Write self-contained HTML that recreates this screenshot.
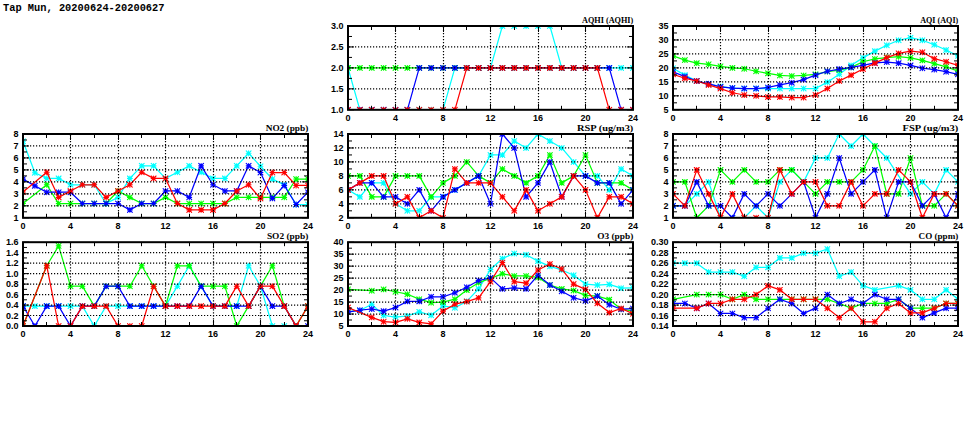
<!DOCTYPE html><html><head><meta charset="utf-8"><style>html,body{margin:0;padding:0;background:#fff;width:975px;height:447px;overflow:hidden}svg{display:block}</style></head><body>
<svg width="975" height="447" viewBox="0 0 975 447">
<rect width="975" height="447" fill="#fff"/>
<text x="3" y="10.9" font-family="Liberation Mono" font-weight="bold" font-size="11.2" textLength="161.5" lengthAdjust="spacingAndGlyphs" fill="#000">Tap Mun, 20200624-20200627</text>
<clipPath id="c01"><rect x="23" y="134" width="285" height="83.8"/></clipPath>
<g fill="none" stroke-linejoin="round" stroke-linecap="round" clip-path="url(#c01)">
<path d="M23 141.18 L34.88 172.79 L46.75 178.41 L58.62 178.41 L70.5 184.76 L82.38 184.76 L94.25 184.76 L106.12 203.55 L118 197.33 L129.88 178.41 L141.75 165.84 L153.62 165.84 L165.5 178.41 L177.38 172.19 L189.25 165.84 L201.12 172.19 L213 178.41 L224.88 178.41 L236.75 165.84 L248.62 153.27 L260.5 166.32 L272.38 179.01 L284.25 184.88 L296.12 204.51 L308 204.51" stroke="#00ffff" stroke-width="1.25"/>
<path d="M20.6 138.78L25.4 143.58M20.6 143.58L25.4 138.78M20.6 141.18L25.4 141.18M23 138.78L23 143.58M32.48 170.39L37.27 175.19M32.48 175.19L37.27 170.39M32.48 172.79L37.27 172.79M34.88 170.39L34.88 175.19M44.35 176.01L49.15 180.81M44.35 180.81L49.15 176.01M44.35 178.41L49.15 178.41M46.75 176.01L46.75 180.81M56.23 176.01L61.02 180.81M56.23 180.81L61.02 176.01M56.23 178.41L61.02 178.41M58.62 176.01L58.62 180.81M68.1 182.36L72.9 187.16M68.1 187.16L72.9 182.36M68.1 184.76L72.9 184.76M70.5 182.36L70.5 187.16M79.97 182.36L84.78 187.16M79.97 187.16L84.78 182.36M79.97 184.76L84.78 184.76M82.38 182.36L82.38 187.16M91.85 182.36L96.65 187.16M91.85 187.16L96.65 182.36M91.85 184.76L96.65 184.76M94.25 182.36L94.25 187.16M103.72 201.15L108.53 205.95M103.72 205.95L108.53 201.15M103.72 203.55L108.53 203.55M106.12 201.15L106.12 205.95M115.6 194.93L120.4 199.73M115.6 199.73L120.4 194.93M115.6 197.33L120.4 197.33M118 194.93L118 199.73M127.47 176.01L132.28 180.81M127.47 180.81L132.28 176.01M127.47 178.41L132.28 178.41M129.88 176.01L129.88 180.81M139.35 163.44L144.15 168.24M139.35 168.24L144.15 163.44M139.35 165.84L144.15 165.84M141.75 163.44L141.75 168.24M151.22 163.44L156.03 168.24M151.22 168.24L156.03 163.44M151.22 165.84L156.03 165.84M153.62 163.44L153.62 168.24M163.1 176.01L167.9 180.81M163.1 180.81L167.9 176.01M163.1 178.41L167.9 178.41M165.5 176.01L165.5 180.81M174.97 169.79L179.78 174.59M174.97 174.59L179.78 169.79M174.97 172.19L179.78 172.19M177.38 169.79L177.38 174.59M186.85 163.44L191.65 168.24M186.85 168.24L191.65 163.44M186.85 165.84L191.65 165.84M189.25 163.44L189.25 168.24M198.72 169.79L203.53 174.59M198.72 174.59L203.53 169.79M198.72 172.19L203.53 172.19M201.12 169.79L201.12 174.59M210.6 176.01L215.4 180.81M210.6 180.81L215.4 176.01M210.6 178.41L215.4 178.41M213 176.01L213 180.81M222.47 176.01L227.28 180.81M222.47 180.81L227.28 176.01M222.47 178.41L227.28 178.41M224.88 176.01L224.88 180.81M234.35 163.44L239.15 168.24M234.35 168.24L239.15 163.44M234.35 165.84L239.15 165.84M236.75 163.44L236.75 168.24M246.22 150.87L251.03 155.67M246.22 155.67L251.03 150.87M246.22 153.27L251.03 153.27M248.62 150.87L248.62 155.67M258.1 163.92L262.9 168.72M258.1 168.72L262.9 163.92M258.1 166.32L262.9 166.32M260.5 163.92L260.5 168.72M269.98 176.61L274.77 181.41M269.98 181.41L274.77 176.61M269.98 179.01L274.77 179.01M272.38 176.61L272.38 181.41M281.85 182.48L286.65 187.28M281.85 187.28L286.65 182.48M281.85 184.88L286.65 184.88M284.25 182.48L284.25 187.28M293.73 202.11L298.52 206.91M293.73 206.91L298.52 202.11M293.73 204.51L298.52 204.51M296.12 202.11L296.12 206.91M305.6 202.11L310.4 206.91M305.6 206.91L310.4 202.11M305.6 204.51L310.4 204.51M308 202.11L308 206.91" stroke="#00ffff" stroke-width="1.1"/>
<path d="M23 203.55 L46.75 184.76 L58.62 203.55 L70.5 203.55 L82.38 203.55 L94.25 203.55 L106.12 203.55 L118 190.98 L129.88 197.33 L141.75 203.55 L153.62 203.55 L165.5 197.33 L177.38 203.55 L189.25 203.55 L201.12 203.55 L213 203.55 L224.88 203.55 L236.75 197.33 L248.62 197.33 L260.5 197.33 L272.38 197.33 L284.25 197.33 L296.12 179.01 L308 179.01" stroke="#00ff00" stroke-width="1.25"/>
<path d="M20.6 201.15L25.4 205.95M20.6 205.95L25.4 201.15M20.6 203.55L25.4 203.55M23 201.15L23 205.95M44.35 182.36L49.15 187.16M44.35 187.16L49.15 182.36M44.35 184.76L49.15 184.76M46.75 182.36L46.75 187.16M56.23 201.15L61.02 205.95M56.23 205.95L61.02 201.15M56.23 203.55L61.02 203.55M58.62 201.15L58.62 205.95M68.1 201.15L72.9 205.95M68.1 205.95L72.9 201.15M68.1 203.55L72.9 203.55M70.5 201.15L70.5 205.95M79.97 201.15L84.78 205.95M79.97 205.95L84.78 201.15M79.97 203.55L84.78 203.55M82.38 201.15L82.38 205.95M91.85 201.15L96.65 205.95M91.85 205.95L96.65 201.15M91.85 203.55L96.65 203.55M94.25 201.15L94.25 205.95M103.72 201.15L108.53 205.95M103.72 205.95L108.53 201.15M103.72 203.55L108.53 203.55M106.12 201.15L106.12 205.95M115.6 188.58L120.4 193.38M115.6 193.38L120.4 188.58M115.6 190.98L120.4 190.98M118 188.58L118 193.38M127.47 194.93L132.28 199.73M127.47 199.73L132.28 194.93M127.47 197.33L132.28 197.33M129.88 194.93L129.88 199.73M139.35 201.15L144.15 205.95M139.35 205.95L144.15 201.15M139.35 203.55L144.15 203.55M141.75 201.15L141.75 205.95M151.22 201.15L156.03 205.95M151.22 205.95L156.03 201.15M151.22 203.55L156.03 203.55M153.62 201.15L153.62 205.95M163.1 194.93L167.9 199.73M163.1 199.73L167.9 194.93M163.1 197.33L167.9 197.33M165.5 194.93L165.5 199.73M174.97 201.15L179.78 205.95M174.97 205.95L179.78 201.15M174.97 203.55L179.78 203.55M177.38 201.15L177.38 205.95M186.85 201.15L191.65 205.95M186.85 205.95L191.65 201.15M186.85 203.55L191.65 203.55M189.25 201.15L189.25 205.95M198.72 201.15L203.53 205.95M198.72 205.95L203.53 201.15M198.72 203.55L203.53 203.55M201.12 201.15L201.12 205.95M210.6 201.15L215.4 205.95M210.6 205.95L215.4 201.15M210.6 203.55L215.4 203.55M213 201.15L213 205.95M222.47 201.15L227.28 205.95M222.47 205.95L227.28 201.15M222.47 203.55L227.28 203.55M224.88 201.15L224.88 205.95M234.35 194.93L239.15 199.73M234.35 199.73L239.15 194.93M234.35 197.33L239.15 197.33M236.75 194.93L236.75 199.73M246.22 194.93L251.03 199.73M246.22 199.73L251.03 194.93M246.22 197.33L251.03 197.33M248.62 194.93L248.62 199.73M258.1 194.93L262.9 199.73M258.1 199.73L262.9 194.93M258.1 197.33L262.9 197.33M260.5 194.93L260.5 199.73M269.98 194.93L274.77 199.73M269.98 199.73L274.77 194.93M269.98 197.33L274.77 197.33M272.38 194.93L272.38 199.73M281.85 194.93L286.65 199.73M281.85 199.73L286.65 194.93M281.85 197.33L286.65 197.33M284.25 194.93L284.25 199.73M293.73 176.61L298.52 181.41M293.73 181.41L298.52 176.61M293.73 179.01L298.52 179.01M296.12 176.61L296.12 181.41M305.6 176.61L310.4 181.41M305.6 181.41L310.4 176.61M305.6 179.01L310.4 179.01M308 176.61L308 181.41" stroke="#00ff00" stroke-width="1.1"/>
<path d="M23 179.13 L34.88 185.84 L46.75 192.18 L58.62 192.18 L70.5 192.18 L82.38 203.55 L94.25 203.55 L106.12 203.55 L118 203.55 L129.88 209.9 L141.75 203.55 L153.62 203.55 L165.5 190.98 L177.38 190.98 L189.25 197.33 L201.12 165.84 L213 184.76 L224.88 190.98 L236.75 190.98 L248.62 165.84 L260.5 172.55 L272.38 198.41 L284.25 185.48 L296.12 204.51 L308 192.18" stroke="#0000ff" stroke-width="1.25"/>
<path d="M20.6 176.73L25.4 181.53M20.6 181.53L25.4 176.73M20.6 179.13L25.4 179.13M23 176.73L23 181.53M32.48 183.44L37.27 188.24M32.48 188.24L37.27 183.44M32.48 185.84L37.27 185.84M34.88 183.44L34.88 188.24M44.35 189.78L49.15 194.58M44.35 194.58L49.15 189.78M44.35 192.18L49.15 192.18M46.75 189.78L46.75 194.58M56.23 189.78L61.02 194.58M56.23 194.58L61.02 189.78M56.23 192.18L61.02 192.18M58.62 189.78L58.62 194.58M68.1 189.78L72.9 194.58M68.1 194.58L72.9 189.78M68.1 192.18L72.9 192.18M70.5 189.78L70.5 194.58M79.97 201.15L84.78 205.95M79.97 205.95L84.78 201.15M79.97 203.55L84.78 203.55M82.38 201.15L82.38 205.95M91.85 201.15L96.65 205.95M91.85 205.95L96.65 201.15M91.85 203.55L96.65 203.55M94.25 201.15L94.25 205.95M103.72 201.15L108.53 205.95M103.72 205.95L108.53 201.15M103.72 203.55L108.53 203.55M106.12 201.15L106.12 205.95M115.6 201.15L120.4 205.95M115.6 205.95L120.4 201.15M115.6 203.55L120.4 203.55M118 201.15L118 205.95M127.47 207.5L132.28 212.3M127.47 212.3L132.28 207.5M127.47 209.9L132.28 209.9M129.88 207.5L129.88 212.3M139.35 201.15L144.15 205.95M139.35 205.95L144.15 201.15M139.35 203.55L144.15 203.55M141.75 201.15L141.75 205.95M151.22 201.15L156.03 205.95M151.22 205.95L156.03 201.15M151.22 203.55L156.03 203.55M153.62 201.15L153.62 205.95M163.1 188.58L167.9 193.38M163.1 193.38L167.9 188.58M163.1 190.98L167.9 190.98M165.5 188.58L165.5 193.38M174.97 188.58L179.78 193.38M174.97 193.38L179.78 188.58M174.97 190.98L179.78 190.98M177.38 188.58L177.38 193.38M186.85 194.93L191.65 199.73M186.85 199.73L191.65 194.93M186.85 197.33L191.65 197.33M189.25 194.93L189.25 199.73M198.72 163.44L203.53 168.24M198.72 168.24L203.53 163.44M198.72 165.84L203.53 165.84M201.12 163.44L201.12 168.24M210.6 182.36L215.4 187.16M210.6 187.16L215.4 182.36M210.6 184.76L215.4 184.76M213 182.36L213 187.16M222.47 188.58L227.28 193.38M222.47 193.38L227.28 188.58M222.47 190.98L227.28 190.98M224.88 188.58L224.88 193.38M234.35 188.58L239.15 193.38M234.35 193.38L239.15 188.58M234.35 190.98L239.15 190.98M236.75 188.58L236.75 193.38M246.22 163.44L251.03 168.24M246.22 168.24L251.03 163.44M246.22 165.84L251.03 165.84M248.62 163.44L248.62 168.24M258.1 170.15L262.9 174.95M258.1 174.95L262.9 170.15M258.1 172.55L262.9 172.55M260.5 170.15L260.5 174.95M269.98 196.01L274.77 200.81M269.98 200.81L274.77 196.01M269.98 198.41L274.77 198.41M272.38 196.01L272.38 200.81M281.85 183.08L286.65 187.88M281.85 187.88L286.65 183.08M281.85 185.48L286.65 185.48M284.25 183.08L284.25 187.88M293.73 202.11L298.52 206.91M293.73 206.91L298.52 202.11M293.73 204.51L298.52 204.51M296.12 202.11L296.12 206.91M305.6 189.78L310.4 194.58M305.6 194.58L310.4 189.78M305.6 192.18L310.4 192.18M308 189.78L308 194.58" stroke="#0000ff" stroke-width="1.1"/>
<path d="M23 191.94 L46.75 172.19 L58.62 197.33 L70.5 190.98 L82.38 184.76 L94.25 184.76 L106.12 197.33 L118 190.98 L129.88 184.76 L141.75 172.19 L153.62 178.41 L165.5 178.41 L177.38 203.55 L189.25 209.9 L201.12 209.9 L213 209.9 L224.88 203.55 L236.75 190.98 L248.62 184.76 L260.5 198.41 L272.38 172.55 L284.25 172.55 L296.12 185.48 L308 185.48" stroke="#ff0000" stroke-width="1.25"/>
<path d="M20.6 189.54L25.4 194.34M20.6 194.34L25.4 189.54M20.6 191.94L25.4 191.94M23 189.54L23 194.34M44.35 169.79L49.15 174.59M44.35 174.59L49.15 169.79M44.35 172.19L49.15 172.19M46.75 169.79L46.75 174.59M56.23 194.93L61.02 199.73M56.23 199.73L61.02 194.93M56.23 197.33L61.02 197.33M58.62 194.93L58.62 199.73M68.1 188.58L72.9 193.38M68.1 193.38L72.9 188.58M68.1 190.98L72.9 190.98M70.5 188.58L70.5 193.38M79.97 182.36L84.78 187.16M79.97 187.16L84.78 182.36M79.97 184.76L84.78 184.76M82.38 182.36L82.38 187.16M91.85 182.36L96.65 187.16M91.85 187.16L96.65 182.36M91.85 184.76L96.65 184.76M94.25 182.36L94.25 187.16M103.72 194.93L108.53 199.73M103.72 199.73L108.53 194.93M103.72 197.33L108.53 197.33M106.12 194.93L106.12 199.73M115.6 188.58L120.4 193.38M115.6 193.38L120.4 188.58M115.6 190.98L120.4 190.98M118 188.58L118 193.38M127.47 182.36L132.28 187.16M127.47 187.16L132.28 182.36M127.47 184.76L132.28 184.76M129.88 182.36L129.88 187.16M139.35 169.79L144.15 174.59M139.35 174.59L144.15 169.79M139.35 172.19L144.15 172.19M141.75 169.79L141.75 174.59M151.22 176.01L156.03 180.81M151.22 180.81L156.03 176.01M151.22 178.41L156.03 178.41M153.62 176.01L153.62 180.81M163.1 176.01L167.9 180.81M163.1 180.81L167.9 176.01M163.1 178.41L167.9 178.41M165.5 176.01L165.5 180.81M174.97 201.15L179.78 205.95M174.97 205.95L179.78 201.15M174.97 203.55L179.78 203.55M177.38 201.15L177.38 205.95M186.85 207.5L191.65 212.3M186.85 212.3L191.65 207.5M186.85 209.9L191.65 209.9M189.25 207.5L189.25 212.3M198.72 207.5L203.53 212.3M198.72 212.3L203.53 207.5M198.72 209.9L203.53 209.9M201.12 207.5L201.12 212.3M210.6 207.5L215.4 212.3M210.6 212.3L215.4 207.5M210.6 209.9L215.4 209.9M213 207.5L213 212.3M222.47 201.15L227.28 205.95M222.47 205.95L227.28 201.15M222.47 203.55L227.28 203.55M224.88 201.15L224.88 205.95M234.35 188.58L239.15 193.38M234.35 193.38L239.15 188.58M234.35 190.98L239.15 190.98M236.75 188.58L236.75 193.38M246.22 182.36L251.03 187.16M246.22 187.16L251.03 182.36M246.22 184.76L251.03 184.76M248.62 182.36L248.62 187.16M258.1 196.01L262.9 200.81M258.1 200.81L262.9 196.01M258.1 198.41L262.9 198.41M260.5 196.01L260.5 200.81M269.98 170.15L274.77 174.95M269.98 174.95L274.77 170.15M269.98 172.55L274.77 172.55M272.38 170.15L272.38 174.95M281.85 170.15L286.65 174.95M281.85 174.95L286.65 170.15M281.85 172.55L286.65 172.55M284.25 170.15L284.25 174.95M293.73 183.08L298.52 187.88M293.73 187.88L298.52 183.08M293.73 185.48L298.52 185.48M296.12 183.08L296.12 187.88M305.6 183.08L310.4 187.88M305.6 187.88L310.4 183.08M305.6 185.48L310.4 185.48M308 183.08L308 187.88" stroke="#ff0000" stroke-width="1.1"/>
</g>
<rect x="23" y="134" width="285" height="83.8" fill="none" stroke="#000" stroke-width="2.0"/>
<path d="M70.5 135V216.8M118.5 135V216.8M165.5 135V216.8M213.5 135V216.8M260.5 135V216.8M24 205.83H307M24 193.86H307M24 181.89H307M24 169.91H307M24 157.94H307M24 145.97H307" stroke="#000" stroke-width="1.2" stroke-dasharray="1.2 1.8" fill="none"/>
<path d="M23.5 217.8v-6M23.5 134v6M46.5 217.8v-4M46.5 134v4M70.5 217.8v-6M70.5 134v6M94.5 217.8v-4M94.5 134v4M118.5 217.8v-6M118.5 134v6M141.5 217.8v-4M141.5 134v4M165.5 217.8v-6M165.5 134v6M189.5 217.8v-4M189.5 134v4M213.5 217.8v-6M213.5 134v6M236.5 217.8v-4M236.5 134v4M260.5 217.8v-6M260.5 134v6M284.5 217.8v-4M284.5 134v4M308.5 217.8v-6M308.5 134v6M23 217.8h6M308 217.8h-6M23 211.81h4M308 211.81h-4M23 205.83h6M308 205.83h-6M23 199.84h4M308 199.84h-4M23 193.86h6M308 193.86h-6M23 187.87h4M308 187.87h-4M23 181.89h6M308 181.89h-6M23 175.9h4M308 175.9h-4M23 169.91h6M308 169.91h-6M23 163.93h4M308 163.93h-4M23 157.94h6M308 157.94h-6M23 151.96h4M308 151.96h-4M23 145.97h6M308 145.97h-6M23 139.99h4M308 139.99h-4M23 134h6M308 134h-6" stroke="#000" stroke-width="1" fill="none"/>
<g font-family="Liberation Sans" font-weight="bold" font-size="9" fill="#000">
<text x="23" y="229.1" text-anchor="middle">0</text>
<text x="70.5" y="229.1" text-anchor="middle">4</text>
<text x="118" y="229.1" text-anchor="middle">8</text>
<text x="165.5" y="229.1" text-anchor="middle">12</text>
<text x="213" y="229.1" text-anchor="middle">16</text>
<text x="260.5" y="229.1" text-anchor="middle">20</text>
<text x="308" y="229.1" text-anchor="middle">24</text>
<text x="18.5" y="221" text-anchor="end">1</text>
<text x="18.5" y="209.03" text-anchor="end">2</text>
<text x="18.5" y="197.06" text-anchor="end">3</text>
<text x="18.5" y="185.09" text-anchor="end">4</text>
<text x="18.5" y="173.11" text-anchor="end">5</text>
<text x="18.5" y="161.14" text-anchor="end">6</text>
<text x="18.5" y="149.17" text-anchor="end">7</text>
<text x="18.5" y="137.2" text-anchor="end">8</text>
</g>
<text x="265.7" y="130.6" font-family="Liberation Serif" font-weight="bold" font-size="9.2" textLength="42.6" lengthAdjust="spacingAndGlyphs" fill="#000">NO2 (ppb)</text>
<clipPath id="c02"><rect x="23" y="242.2" width="285" height="83.8"/></clipPath>
<g fill="none" stroke-linejoin="round" stroke-linecap="round" clip-path="url(#c02)">
<path d="M23 306.1 L34.88 306.1 L46.75 306.1 L58.62 306.1 L70.5 306.1 L82.38 306.1 L94.25 326 L106.12 306.1 L118 306.1 L129.88 306.1 L141.75 306.1 L153.62 306.1 L165.5 306.1 L177.38 286.19 L189.25 265.77 L201.12 286.19 L213 306.1 L224.88 306.1 L236.75 306.1 L248.62 265.77 L260.5 286.19 L272.38 326 L284.25 326 L296.12 326" stroke="#00ffff" stroke-width="1.25"/>
<path d="M20.6 303.7L25.4 308.5M20.6 308.5L25.4 303.7M20.6 306.1L25.4 306.1M23 303.7L23 308.5M32.48 303.7L37.27 308.5M32.48 308.5L37.27 303.7M32.48 306.1L37.27 306.1M34.88 303.7L34.88 308.5M44.35 303.7L49.15 308.5M44.35 308.5L49.15 303.7M44.35 306.1L49.15 306.1M46.75 303.7L46.75 308.5M56.23 303.7L61.02 308.5M56.23 308.5L61.02 303.7M56.23 306.1L61.02 306.1M58.62 303.7L58.62 308.5M68.1 303.7L72.9 308.5M68.1 308.5L72.9 303.7M68.1 306.1L72.9 306.1M70.5 303.7L70.5 308.5M79.97 303.7L84.78 308.5M79.97 308.5L84.78 303.7M79.97 306.1L84.78 306.1M82.38 303.7L82.38 308.5M91.85 323.6L96.65 328.4M91.85 328.4L96.65 323.6M91.85 326L96.65 326M94.25 323.6L94.25 328.4M103.72 303.7L108.53 308.5M103.72 308.5L108.53 303.7M103.72 306.1L108.53 306.1M106.12 303.7L106.12 308.5M115.6 303.7L120.4 308.5M115.6 308.5L120.4 303.7M115.6 306.1L120.4 306.1M118 303.7L118 308.5M127.47 303.7L132.28 308.5M127.47 308.5L132.28 303.7M127.47 306.1L132.28 306.1M129.88 303.7L129.88 308.5M139.35 303.7L144.15 308.5M139.35 308.5L144.15 303.7M139.35 306.1L144.15 306.1M141.75 303.7L141.75 308.5M151.22 303.7L156.03 308.5M151.22 308.5L156.03 303.7M151.22 306.1L156.03 306.1M153.62 303.7L153.62 308.5M163.1 303.7L167.9 308.5M163.1 308.5L167.9 303.7M163.1 306.1L167.9 306.1M165.5 303.7L165.5 308.5M174.97 283.8L179.78 288.59M174.97 288.59L179.78 283.8M174.97 286.19L179.78 286.19M177.38 283.8L177.38 288.59M186.85 263.37L191.65 268.17M186.85 268.17L191.65 263.37M186.85 265.77L191.65 265.77M189.25 263.37L189.25 268.17M198.72 283.8L203.53 288.59M198.72 288.59L203.53 283.8M198.72 286.19L203.53 286.19M201.12 283.8L201.12 288.59M210.6 303.7L215.4 308.5M210.6 308.5L215.4 303.7M210.6 306.1L215.4 306.1M213 303.7L213 308.5M222.47 303.7L227.28 308.5M222.47 308.5L227.28 303.7M222.47 306.1L227.28 306.1M224.88 303.7L224.88 308.5M234.35 303.7L239.15 308.5M234.35 308.5L239.15 303.7M234.35 306.1L239.15 306.1M236.75 303.7L236.75 308.5M246.22 263.37L251.03 268.17M246.22 268.17L251.03 263.37M246.22 265.77L251.03 265.77M248.62 263.37L248.62 268.17M258.1 283.8L262.9 288.59M258.1 288.59L262.9 283.8M258.1 286.19L262.9 286.19M260.5 283.8L260.5 288.59M269.98 323.6L274.77 328.4M269.98 328.4L274.77 323.6M269.98 326L274.77 326M272.38 323.6L272.38 328.4M281.85 323.6L286.65 328.4M281.85 328.4L286.65 323.6M281.85 326L286.65 326M284.25 323.6L284.25 328.4M293.73 323.6L298.52 328.4M293.73 328.4L298.52 323.6M293.73 326L298.52 326M296.12 323.6L296.12 328.4" stroke="#00ffff" stroke-width="1.1"/>
<path d="M23 326 L46.75 265.77 L58.62 245.87 L70.5 286.19 L82.38 286.19 L94.25 306.1 L106.12 286.19 L118 286.19 L129.88 286.19 L141.75 265.77 L153.62 286.19 L165.5 306.1 L177.38 265.77 L189.25 265.77 L201.12 286.19 L213 286.19 L224.88 286.19 L236.75 326 L248.62 306.1 L260.5 286.19 L272.38 265.77 L284.25 306.1 L296.12 326 L308 306.1" stroke="#00ff00" stroke-width="1.25"/>
<path d="M20.6 323.6L25.4 328.4M20.6 328.4L25.4 323.6M20.6 326L25.4 326M23 323.6L23 328.4M44.35 263.37L49.15 268.17M44.35 268.17L49.15 263.37M44.35 265.77L49.15 265.77M46.75 263.37L46.75 268.17M56.23 243.47L61.02 248.27M56.23 248.27L61.02 243.47M56.23 245.87L61.02 245.87M58.62 243.47L58.62 248.27M68.1 283.8L72.9 288.59M68.1 288.59L72.9 283.8M68.1 286.19L72.9 286.19M70.5 283.8L70.5 288.59M79.97 283.8L84.78 288.59M79.97 288.59L84.78 283.8M79.97 286.19L84.78 286.19M82.38 283.8L82.38 288.59M91.85 303.7L96.65 308.5M91.85 308.5L96.65 303.7M91.85 306.1L96.65 306.1M94.25 303.7L94.25 308.5M103.72 283.8L108.53 288.59M103.72 288.59L108.53 283.8M103.72 286.19L108.53 286.19M106.12 283.8L106.12 288.59M115.6 283.8L120.4 288.59M115.6 288.59L120.4 283.8M115.6 286.19L120.4 286.19M118 283.8L118 288.59M127.47 283.8L132.28 288.59M127.47 288.59L132.28 283.8M127.47 286.19L132.28 286.19M129.88 283.8L129.88 288.59M139.35 263.37L144.15 268.17M139.35 268.17L144.15 263.37M139.35 265.77L144.15 265.77M141.75 263.37L141.75 268.17M151.22 283.8L156.03 288.59M151.22 288.59L156.03 283.8M151.22 286.19L156.03 286.19M153.62 283.8L153.62 288.59M163.1 303.7L167.9 308.5M163.1 308.5L167.9 303.7M163.1 306.1L167.9 306.1M165.5 303.7L165.5 308.5M174.97 263.37L179.78 268.17M174.97 268.17L179.78 263.37M174.97 265.77L179.78 265.77M177.38 263.37L177.38 268.17M186.85 263.37L191.65 268.17M186.85 268.17L191.65 263.37M186.85 265.77L191.65 265.77M189.25 263.37L189.25 268.17M198.72 283.8L203.53 288.59M198.72 288.59L203.53 283.8M198.72 286.19L203.53 286.19M201.12 283.8L201.12 288.59M210.6 283.8L215.4 288.59M210.6 288.59L215.4 283.8M210.6 286.19L215.4 286.19M213 283.8L213 288.59M222.47 283.8L227.28 288.59M222.47 288.59L227.28 283.8M222.47 286.19L227.28 286.19M224.88 283.8L224.88 288.59M234.35 323.6L239.15 328.4M234.35 328.4L239.15 323.6M234.35 326L239.15 326M236.75 323.6L236.75 328.4M246.22 303.7L251.03 308.5M246.22 308.5L251.03 303.7M246.22 306.1L251.03 306.1M248.62 303.7L248.62 308.5M258.1 283.8L262.9 288.59M258.1 288.59L262.9 283.8M258.1 286.19L262.9 286.19M260.5 283.8L260.5 288.59M269.98 263.37L274.77 268.17M269.98 268.17L274.77 263.37M269.98 265.77L274.77 265.77M272.38 263.37L272.38 268.17M281.85 303.7L286.65 308.5M281.85 308.5L286.65 303.7M281.85 306.1L286.65 306.1M284.25 303.7L284.25 308.5M293.73 323.6L298.52 328.4M293.73 328.4L298.52 323.6M293.73 326L298.52 326M296.12 323.6L296.12 328.4M305.6 303.7L310.4 308.5M305.6 308.5L310.4 303.7M305.6 306.1L310.4 306.1M308 303.7L308 308.5" stroke="#00ff00" stroke-width="1.1"/>
<path d="M23 306.1 L34.88 326 L46.75 306.1 L58.62 306.1 L70.5 326 L82.38 306.1 L94.25 306.1 L106.12 286.19 L118 286.19 L129.88 306.1 L141.75 306.1 L153.62 306.1 L165.5 306.1 L177.38 306.1 L189.25 306.1 L201.12 286.19 L213 306.1 L224.88 306.1 L236.75 306.1 L248.62 306.1 L260.5 286.19 L272.38 306.1 L284.25 306.1 L296.12 326 L308 326" stroke="#0000ff" stroke-width="1.25"/>
<path d="M20.6 303.7L25.4 308.5M20.6 308.5L25.4 303.7M20.6 306.1L25.4 306.1M23 303.7L23 308.5M32.48 323.6L37.27 328.4M32.48 328.4L37.27 323.6M32.48 326L37.27 326M34.88 323.6L34.88 328.4M44.35 303.7L49.15 308.5M44.35 308.5L49.15 303.7M44.35 306.1L49.15 306.1M46.75 303.7L46.75 308.5M56.23 303.7L61.02 308.5M56.23 308.5L61.02 303.7M56.23 306.1L61.02 306.1M58.62 303.7L58.62 308.5M68.1 323.6L72.9 328.4M68.1 328.4L72.9 323.6M68.1 326L72.9 326M70.5 323.6L70.5 328.4M79.97 303.7L84.78 308.5M79.97 308.5L84.78 303.7M79.97 306.1L84.78 306.1M82.38 303.7L82.38 308.5M91.85 303.7L96.65 308.5M91.85 308.5L96.65 303.7M91.85 306.1L96.65 306.1M94.25 303.7L94.25 308.5M103.72 283.8L108.53 288.59M103.72 288.59L108.53 283.8M103.72 286.19L108.53 286.19M106.12 283.8L106.12 288.59M115.6 283.8L120.4 288.59M115.6 288.59L120.4 283.8M115.6 286.19L120.4 286.19M118 283.8L118 288.59M127.47 303.7L132.28 308.5M127.47 308.5L132.28 303.7M127.47 306.1L132.28 306.1M129.88 303.7L129.88 308.5M139.35 303.7L144.15 308.5M139.35 308.5L144.15 303.7M139.35 306.1L144.15 306.1M141.75 303.7L141.75 308.5M151.22 303.7L156.03 308.5M151.22 308.5L156.03 303.7M151.22 306.1L156.03 306.1M153.62 303.7L153.62 308.5M163.1 303.7L167.9 308.5M163.1 308.5L167.9 303.7M163.1 306.1L167.9 306.1M165.5 303.7L165.5 308.5M174.97 303.7L179.78 308.5M174.97 308.5L179.78 303.7M174.97 306.1L179.78 306.1M177.38 303.7L177.38 308.5M186.85 303.7L191.65 308.5M186.85 308.5L191.65 303.7M186.85 306.1L191.65 306.1M189.25 303.7L189.25 308.5M198.72 283.8L203.53 288.59M198.72 288.59L203.53 283.8M198.72 286.19L203.53 286.19M201.12 283.8L201.12 288.59M210.6 303.7L215.4 308.5M210.6 308.5L215.4 303.7M210.6 306.1L215.4 306.1M213 303.7L213 308.5M222.47 303.7L227.28 308.5M222.47 308.5L227.28 303.7M222.47 306.1L227.28 306.1M224.88 303.7L224.88 308.5M234.35 303.7L239.15 308.5M234.35 308.5L239.15 303.7M234.35 306.1L239.15 306.1M236.75 303.7L236.75 308.5M246.22 303.7L251.03 308.5M246.22 308.5L251.03 303.7M246.22 306.1L251.03 306.1M248.62 303.7L248.62 308.5M258.1 283.8L262.9 288.59M258.1 288.59L262.9 283.8M258.1 286.19L262.9 286.19M260.5 283.8L260.5 288.59M269.98 303.7L274.77 308.5M269.98 308.5L274.77 303.7M269.98 306.1L274.77 306.1M272.38 303.7L272.38 308.5M281.85 303.7L286.65 308.5M281.85 308.5L286.65 303.7M281.85 306.1L286.65 306.1M284.25 303.7L284.25 308.5M293.73 323.6L298.52 328.4M293.73 328.4L298.52 323.6M293.73 326L298.52 326M296.12 323.6L296.12 328.4M305.6 323.6L310.4 328.4M305.6 328.4L310.4 323.6M305.6 326L310.4 326M308 323.6L308 328.4" stroke="#0000ff" stroke-width="1.1"/>
<path d="M23 326 L46.75 265.77 L58.62 326 L70.5 326 L82.38 306.1 L94.25 306.1 L106.12 306.1 L118 326 L129.88 326 L141.75 326 L153.62 286.19 L165.5 306.1 L177.38 306.1 L189.25 306.1 L201.12 306.1 L213 306.1 L224.88 306.1 L236.75 286.19 L248.62 306.1 L260.5 286.19 L272.38 286.19 L284.25 306.1 L296.12 326 L308 306.1" stroke="#ff0000" stroke-width="1.25"/>
<path d="M20.6 323.6L25.4 328.4M20.6 328.4L25.4 323.6M20.6 326L25.4 326M23 323.6L23 328.4M44.35 263.37L49.15 268.17M44.35 268.17L49.15 263.37M44.35 265.77L49.15 265.77M46.75 263.37L46.75 268.17M56.23 323.6L61.02 328.4M56.23 328.4L61.02 323.6M56.23 326L61.02 326M58.62 323.6L58.62 328.4M68.1 323.6L72.9 328.4M68.1 328.4L72.9 323.6M68.1 326L72.9 326M70.5 323.6L70.5 328.4M79.97 303.7L84.78 308.5M79.97 308.5L84.78 303.7M79.97 306.1L84.78 306.1M82.38 303.7L82.38 308.5M91.85 303.7L96.65 308.5M91.85 308.5L96.65 303.7M91.85 306.1L96.65 306.1M94.25 303.7L94.25 308.5M103.72 303.7L108.53 308.5M103.72 308.5L108.53 303.7M103.72 306.1L108.53 306.1M106.12 303.7L106.12 308.5M115.6 323.6L120.4 328.4M115.6 328.4L120.4 323.6M115.6 326L120.4 326M118 323.6L118 328.4M127.47 323.6L132.28 328.4M127.47 328.4L132.28 323.6M127.47 326L132.28 326M129.88 323.6L129.88 328.4M139.35 323.6L144.15 328.4M139.35 328.4L144.15 323.6M139.35 326L144.15 326M141.75 323.6L141.75 328.4M151.22 283.8L156.03 288.59M151.22 288.59L156.03 283.8M151.22 286.19L156.03 286.19M153.62 283.8L153.62 288.59M163.1 303.7L167.9 308.5M163.1 308.5L167.9 303.7M163.1 306.1L167.9 306.1M165.5 303.7L165.5 308.5M174.97 303.7L179.78 308.5M174.97 308.5L179.78 303.7M174.97 306.1L179.78 306.1M177.38 303.7L177.38 308.5M186.85 303.7L191.65 308.5M186.85 308.5L191.65 303.7M186.85 306.1L191.65 306.1M189.25 303.7L189.25 308.5M198.72 303.7L203.53 308.5M198.72 308.5L203.53 303.7M198.72 306.1L203.53 306.1M201.12 303.7L201.12 308.5M210.6 303.7L215.4 308.5M210.6 308.5L215.4 303.7M210.6 306.1L215.4 306.1M213 303.7L213 308.5M222.47 303.7L227.28 308.5M222.47 308.5L227.28 303.7M222.47 306.1L227.28 306.1M224.88 303.7L224.88 308.5M234.35 283.8L239.15 288.59M234.35 288.59L239.15 283.8M234.35 286.19L239.15 286.19M236.75 283.8L236.75 288.59M246.22 303.7L251.03 308.5M246.22 308.5L251.03 303.7M246.22 306.1L251.03 306.1M248.62 303.7L248.62 308.5M258.1 283.8L262.9 288.59M258.1 288.59L262.9 283.8M258.1 286.19L262.9 286.19M260.5 283.8L260.5 288.59M269.98 283.8L274.77 288.59M269.98 288.59L274.77 283.8M269.98 286.19L274.77 286.19M272.38 283.8L272.38 288.59M281.85 303.7L286.65 308.5M281.85 308.5L286.65 303.7M281.85 306.1L286.65 306.1M284.25 303.7L284.25 308.5M293.73 323.6L298.52 328.4M293.73 328.4L298.52 323.6M293.73 326L298.52 326M296.12 323.6L296.12 328.4M305.6 303.7L310.4 308.5M305.6 308.5L310.4 303.7M305.6 306.1L310.4 306.1M308 303.7L308 308.5" stroke="#ff0000" stroke-width="1.1"/>
</g>
<rect x="23" y="242.2" width="285" height="83.8" fill="none" stroke="#000" stroke-width="2.0"/>
<path d="M70.5 243.2V325M118.5 243.2V325M165.5 243.2V325M213.5 243.2V325M260.5 243.2V325M24 315.52H307M24 305.05H307M24 294.57H307M24 284.1H307M24 273.62H307M24 263.15H307M24 252.68H307" stroke="#000" stroke-width="1.2" stroke-dasharray="1.2 1.8" fill="none"/>
<path d="M23.5 326v-6M23.5 242.2v6M46.5 326v-4M46.5 242.2v4M70.5 326v-6M70.5 242.2v6M94.5 326v-4M94.5 242.2v4M118.5 326v-6M118.5 242.2v6M141.5 326v-4M141.5 242.2v4M165.5 326v-6M165.5 242.2v6M189.5 326v-4M189.5 242.2v4M213.5 326v-6M213.5 242.2v6M236.5 326v-4M236.5 242.2v4M260.5 326v-6M260.5 242.2v6M284.5 326v-4M284.5 242.2v4M308.5 326v-6M308.5 242.2v6M23 326h6M308 326h-6M23 320.76h4M308 320.76h-4M23 315.52h6M308 315.52h-6M23 310.29h4M308 310.29h-4M23 305.05h6M308 305.05h-6M23 299.81h4M308 299.81h-4M23 294.57h6M308 294.57h-6M23 289.34h4M308 289.34h-4M23 284.1h6M308 284.1h-6M23 278.86h4M308 278.86h-4M23 273.62h6M308 273.62h-6M23 268.39h4M308 268.39h-4M23 263.15h6M308 263.15h-6M23 257.91h4M308 257.91h-4M23 252.68h6M308 252.68h-6M23 247.44h4M308 247.44h-4M23 242.2h6M308 242.2h-6" stroke="#000" stroke-width="1" fill="none"/>
<g font-family="Liberation Sans" font-weight="bold" font-size="9" fill="#000">
<text x="23" y="337.3" text-anchor="middle">0</text>
<text x="70.5" y="337.3" text-anchor="middle">4</text>
<text x="118" y="337.3" text-anchor="middle">8</text>
<text x="165.5" y="337.3" text-anchor="middle">12</text>
<text x="213" y="337.3" text-anchor="middle">16</text>
<text x="260.5" y="337.3" text-anchor="middle">20</text>
<text x="308" y="337.3" text-anchor="middle">24</text>
<text x="18.5" y="329.2" text-anchor="end">0.0</text>
<text x="18.5" y="318.72" text-anchor="end">0.2</text>
<text x="18.5" y="308.25" text-anchor="end">0.4</text>
<text x="18.5" y="297.77" text-anchor="end">0.6</text>
<text x="18.5" y="287.3" text-anchor="end">0.8</text>
<text x="18.5" y="276.82" text-anchor="end">1.0</text>
<text x="18.5" y="266.35" text-anchor="end">1.2</text>
<text x="18.5" y="255.88" text-anchor="end">1.4</text>
<text x="18.5" y="245.4" text-anchor="end">1.6</text>
</g>
<text x="266.9" y="238.8" font-family="Liberation Serif" font-weight="bold" font-size="9.2" textLength="41.4" lengthAdjust="spacingAndGlyphs" fill="#000">SO2 (ppb)</text>
<clipPath id="c10"><rect x="348" y="26" width="285" height="83.8"/></clipPath>
<g fill="none" stroke-linejoin="round" stroke-linecap="round" clip-path="url(#c10)">
<path d="M348 67.9 L359.88 109.8 L371.75 109.8 L383.62 109.8 L395.5 109.8 L407.38 109.8 L419.25 109.8 L431.12 109.8 L443 109.8 L454.88 67.9 L466.75 67.9 L478.62 67.9 L490.5 67.9 L502.38 26 L514.25 26 L526.12 26 L538 26 L549.88 26 L561.75 67.9 L573.62 67.9 L585.5 67.9 L597.38 67.9 L609.25 67.9 L621.12 67.9 L633 67.9" stroke="#00ffff" stroke-width="1.25"/>
<path d="M345.6 65.5L350.4 70.3M345.6 70.3L350.4 65.5M345.6 67.9L350.4 67.9M348 65.5L348 70.3M357.48 107.4L362.27 112.2M357.48 112.2L362.27 107.4M357.48 109.8L362.27 109.8M359.88 107.4L359.88 112.2M369.35 107.4L374.15 112.2M369.35 112.2L374.15 107.4M369.35 109.8L374.15 109.8M371.75 107.4L371.75 112.2M381.23 107.4L386.02 112.2M381.23 112.2L386.02 107.4M381.23 109.8L386.02 109.8M383.62 107.4L383.62 112.2M393.1 107.4L397.9 112.2M393.1 112.2L397.9 107.4M393.1 109.8L397.9 109.8M395.5 107.4L395.5 112.2M404.98 107.4L409.77 112.2M404.98 112.2L409.77 107.4M404.98 109.8L409.77 109.8M407.38 107.4L407.38 112.2M416.85 107.4L421.65 112.2M416.85 112.2L421.65 107.4M416.85 109.8L421.65 109.8M419.25 107.4L419.25 112.2M428.73 107.4L433.52 112.2M428.73 112.2L433.52 107.4M428.73 109.8L433.52 109.8M431.12 107.4L431.12 112.2M440.6 107.4L445.4 112.2M440.6 112.2L445.4 107.4M440.6 109.8L445.4 109.8M443 107.4L443 112.2M452.48 65.5L457.27 70.3M452.48 70.3L457.27 65.5M452.48 67.9L457.27 67.9M454.88 65.5L454.88 70.3M464.35 65.5L469.15 70.3M464.35 70.3L469.15 65.5M464.35 67.9L469.15 67.9M466.75 65.5L466.75 70.3M476.23 65.5L481.02 70.3M476.23 70.3L481.02 65.5M476.23 67.9L481.02 67.9M478.62 65.5L478.62 70.3M488.1 65.5L492.9 70.3M488.1 70.3L492.9 65.5M488.1 67.9L492.9 67.9M490.5 65.5L490.5 70.3M499.98 23.6L504.77 28.4M499.98 28.4L504.77 23.6M499.98 26L504.77 26M502.38 23.6L502.38 28.4M511.85 23.6L516.65 28.4M511.85 28.4L516.65 23.6M511.85 26L516.65 26M514.25 23.6L514.25 28.4M523.73 23.6L528.52 28.4M523.73 28.4L528.52 23.6M523.73 26L528.52 26M526.12 23.6L526.12 28.4M535.6 23.6L540.4 28.4M535.6 28.4L540.4 23.6M535.6 26L540.4 26M538 23.6L538 28.4M547.48 23.6L552.27 28.4M547.48 28.4L552.27 23.6M547.48 26L552.27 26M549.88 23.6L549.88 28.4M559.35 65.5L564.15 70.3M559.35 70.3L564.15 65.5M559.35 67.9L564.15 67.9M561.75 65.5L561.75 70.3M571.23 65.5L576.02 70.3M571.23 70.3L576.02 65.5M571.23 67.9L576.02 67.9M573.62 65.5L573.62 70.3M583.1 65.5L587.9 70.3M583.1 70.3L587.9 65.5M583.1 67.9L587.9 67.9M585.5 65.5L585.5 70.3M594.98 65.5L599.77 70.3M594.98 70.3L599.77 65.5M594.98 67.9L599.77 67.9M597.38 65.5L597.38 70.3M606.85 65.5L611.65 70.3M606.85 70.3L611.65 65.5M606.85 67.9L611.65 67.9M609.25 65.5L609.25 70.3M618.73 65.5L623.52 70.3M618.73 70.3L623.52 65.5M618.73 67.9L623.52 67.9M621.12 65.5L621.12 70.3M630.6 65.5L635.4 70.3M630.6 70.3L635.4 65.5M630.6 67.9L635.4 67.9M633 65.5L633 70.3" stroke="#00ffff" stroke-width="1.1"/>
<path d="M348 67.9 L359.88 67.9 L371.75 67.9 L383.62 67.9 L395.5 67.9 L407.38 67.9 L419.25 67.9 L431.12 67.9 L443 67.9 L454.88 67.9 L466.75 67.9 L478.62 67.9 L490.5 67.9 L502.38 67.9 L514.25 67.9 L526.12 67.9 L538 67.9 L549.88 67.9 L561.75 67.9 L573.62 67.9 L585.5 67.9 L597.38 67.9" stroke="#00ff00" stroke-width="1.25"/>
<path d="M345.6 65.5L350.4 70.3M345.6 70.3L350.4 65.5M345.6 67.9L350.4 67.9M348 65.5L348 70.3M357.48 65.5L362.27 70.3M357.48 70.3L362.27 65.5M357.48 67.9L362.27 67.9M359.88 65.5L359.88 70.3M369.35 65.5L374.15 70.3M369.35 70.3L374.15 65.5M369.35 67.9L374.15 67.9M371.75 65.5L371.75 70.3M381.23 65.5L386.02 70.3M381.23 70.3L386.02 65.5M381.23 67.9L386.02 67.9M383.62 65.5L383.62 70.3M393.1 65.5L397.9 70.3M393.1 70.3L397.9 65.5M393.1 67.9L397.9 67.9M395.5 65.5L395.5 70.3M404.98 65.5L409.77 70.3M404.98 70.3L409.77 65.5M404.98 67.9L409.77 67.9M407.38 65.5L407.38 70.3M416.85 65.5L421.65 70.3M416.85 70.3L421.65 65.5M416.85 67.9L421.65 67.9M419.25 65.5L419.25 70.3M428.73 65.5L433.52 70.3M428.73 70.3L433.52 65.5M428.73 67.9L433.52 67.9M431.12 65.5L431.12 70.3M440.6 65.5L445.4 70.3M440.6 70.3L445.4 65.5M440.6 67.9L445.4 67.9M443 65.5L443 70.3M452.48 65.5L457.27 70.3M452.48 70.3L457.27 65.5M452.48 67.9L457.27 67.9M454.88 65.5L454.88 70.3M464.35 65.5L469.15 70.3M464.35 70.3L469.15 65.5M464.35 67.9L469.15 67.9M466.75 65.5L466.75 70.3M476.23 65.5L481.02 70.3M476.23 70.3L481.02 65.5M476.23 67.9L481.02 67.9M478.62 65.5L478.62 70.3M488.1 65.5L492.9 70.3M488.1 70.3L492.9 65.5M488.1 67.9L492.9 67.9M490.5 65.5L490.5 70.3M499.98 65.5L504.77 70.3M499.98 70.3L504.77 65.5M499.98 67.9L504.77 67.9M502.38 65.5L502.38 70.3M511.85 65.5L516.65 70.3M511.85 70.3L516.65 65.5M511.85 67.9L516.65 67.9M514.25 65.5L514.25 70.3M523.73 65.5L528.52 70.3M523.73 70.3L528.52 65.5M523.73 67.9L528.52 67.9M526.12 65.5L526.12 70.3M535.6 65.5L540.4 70.3M535.6 70.3L540.4 65.5M535.6 67.9L540.4 67.9M538 65.5L538 70.3M547.48 65.5L552.27 70.3M547.48 70.3L552.27 65.5M547.48 67.9L552.27 67.9M549.88 65.5L549.88 70.3M559.35 65.5L564.15 70.3M559.35 70.3L564.15 65.5M559.35 67.9L564.15 67.9M561.75 65.5L561.75 70.3M571.23 65.5L576.02 70.3M571.23 70.3L576.02 65.5M571.23 67.9L576.02 67.9M573.62 65.5L573.62 70.3M583.1 65.5L587.9 70.3M583.1 70.3L587.9 65.5M583.1 67.9L587.9 67.9M585.5 65.5L585.5 70.3M594.98 65.5L599.77 70.3M594.98 70.3L599.77 65.5M594.98 67.9L599.77 67.9M597.38 65.5L597.38 70.3" stroke="#00ff00" stroke-width="1.1"/>
<path d="M348 109.8 L359.88 109.8 L371.75 109.8 L383.62 109.8 L395.5 109.8 L407.38 109.8 L419.25 67.9 L431.12 67.9 L443 67.9 L454.88 67.9 L466.75 67.9 L478.62 67.9 L490.5 67.9 L502.38 67.9 L514.25 67.9 L526.12 67.9 L538 67.9 L549.88 67.9 L561.75 67.9 L573.62 67.9 L585.5 67.9 L597.38 67.9 L609.25 67.9 L621.12 109.8 L633 109.8" stroke="#0000ff" stroke-width="1.25"/>
<path d="M345.6 107.4L350.4 112.2M345.6 112.2L350.4 107.4M345.6 109.8L350.4 109.8M348 107.4L348 112.2M357.48 107.4L362.27 112.2M357.48 112.2L362.27 107.4M357.48 109.8L362.27 109.8M359.88 107.4L359.88 112.2M369.35 107.4L374.15 112.2M369.35 112.2L374.15 107.4M369.35 109.8L374.15 109.8M371.75 107.4L371.75 112.2M381.23 107.4L386.02 112.2M381.23 112.2L386.02 107.4M381.23 109.8L386.02 109.8M383.62 107.4L383.62 112.2M393.1 107.4L397.9 112.2M393.1 112.2L397.9 107.4M393.1 109.8L397.9 109.8M395.5 107.4L395.5 112.2M404.98 107.4L409.77 112.2M404.98 112.2L409.77 107.4M404.98 109.8L409.77 109.8M407.38 107.4L407.38 112.2M416.85 65.5L421.65 70.3M416.85 70.3L421.65 65.5M416.85 67.9L421.65 67.9M419.25 65.5L419.25 70.3M428.73 65.5L433.52 70.3M428.73 70.3L433.52 65.5M428.73 67.9L433.52 67.9M431.12 65.5L431.12 70.3M440.6 65.5L445.4 70.3M440.6 70.3L445.4 65.5M440.6 67.9L445.4 67.9M443 65.5L443 70.3M452.48 65.5L457.27 70.3M452.48 70.3L457.27 65.5M452.48 67.9L457.27 67.9M454.88 65.5L454.88 70.3M464.35 65.5L469.15 70.3M464.35 70.3L469.15 65.5M464.35 67.9L469.15 67.9M466.75 65.5L466.75 70.3M476.23 65.5L481.02 70.3M476.23 70.3L481.02 65.5M476.23 67.9L481.02 67.9M478.62 65.5L478.62 70.3M488.1 65.5L492.9 70.3M488.1 70.3L492.9 65.5M488.1 67.9L492.9 67.9M490.5 65.5L490.5 70.3M499.98 65.5L504.77 70.3M499.98 70.3L504.77 65.5M499.98 67.9L504.77 67.9M502.38 65.5L502.38 70.3M511.85 65.5L516.65 70.3M511.85 70.3L516.65 65.5M511.85 67.9L516.65 67.9M514.25 65.5L514.25 70.3M523.73 65.5L528.52 70.3M523.73 70.3L528.52 65.5M523.73 67.9L528.52 67.9M526.12 65.5L526.12 70.3M535.6 65.5L540.4 70.3M535.6 70.3L540.4 65.5M535.6 67.9L540.4 67.9M538 65.5L538 70.3M547.48 65.5L552.27 70.3M547.48 70.3L552.27 65.5M547.48 67.9L552.27 67.9M549.88 65.5L549.88 70.3M559.35 65.5L564.15 70.3M559.35 70.3L564.15 65.5M559.35 67.9L564.15 67.9M561.75 65.5L561.75 70.3M571.23 65.5L576.02 70.3M571.23 70.3L576.02 65.5M571.23 67.9L576.02 67.9M573.62 65.5L573.62 70.3M583.1 65.5L587.9 70.3M583.1 70.3L587.9 65.5M583.1 67.9L587.9 67.9M585.5 65.5L585.5 70.3M594.98 65.5L599.77 70.3M594.98 70.3L599.77 65.5M594.98 67.9L599.77 67.9M597.38 65.5L597.38 70.3M606.85 65.5L611.65 70.3M606.85 70.3L611.65 65.5M606.85 67.9L611.65 67.9M609.25 65.5L609.25 70.3M618.73 107.4L623.52 112.2M618.73 112.2L623.52 107.4M618.73 109.8L623.52 109.8M621.12 107.4L621.12 112.2M630.6 107.4L635.4 112.2M630.6 112.2L635.4 107.4M630.6 109.8L635.4 109.8M633 107.4L633 112.2" stroke="#0000ff" stroke-width="1.1"/>
<path d="M348 109.8 L359.88 109.8 L371.75 109.8 L383.62 109.8 L395.5 109.8 L407.38 109.8 L419.25 109.8 L431.12 109.8 L443 109.8 L454.88 109.8 L466.75 67.9 L478.62 67.9 L490.5 67.9 L502.38 67.9 L514.25 67.9 L526.12 67.9 L538 67.9 L549.88 67.9 L561.75 67.9 L573.62 67.9 L585.5 67.9 L597.38 67.9 L609.25 109.8 L621.12 109.8 L633 109.8" stroke="#ff0000" stroke-width="1.25"/>
<path d="M345.6 107.4L350.4 112.2M345.6 112.2L350.4 107.4M345.6 109.8L350.4 109.8M348 107.4L348 112.2M357.48 107.4L362.27 112.2M357.48 112.2L362.27 107.4M357.48 109.8L362.27 109.8M359.88 107.4L359.88 112.2M369.35 107.4L374.15 112.2M369.35 112.2L374.15 107.4M369.35 109.8L374.15 109.8M371.75 107.4L371.75 112.2M381.23 107.4L386.02 112.2M381.23 112.2L386.02 107.4M381.23 109.8L386.02 109.8M383.62 107.4L383.62 112.2M393.1 107.4L397.9 112.2M393.1 112.2L397.9 107.4M393.1 109.8L397.9 109.8M395.5 107.4L395.5 112.2M404.98 107.4L409.77 112.2M404.98 112.2L409.77 107.4M404.98 109.8L409.77 109.8M407.38 107.4L407.38 112.2M416.85 107.4L421.65 112.2M416.85 112.2L421.65 107.4M416.85 109.8L421.65 109.8M419.25 107.4L419.25 112.2M428.73 107.4L433.52 112.2M428.73 112.2L433.52 107.4M428.73 109.8L433.52 109.8M431.12 107.4L431.12 112.2M440.6 107.4L445.4 112.2M440.6 112.2L445.4 107.4M440.6 109.8L445.4 109.8M443 107.4L443 112.2M452.48 107.4L457.27 112.2M452.48 112.2L457.27 107.4M452.48 109.8L457.27 109.8M454.88 107.4L454.88 112.2M464.35 65.5L469.15 70.3M464.35 70.3L469.15 65.5M464.35 67.9L469.15 67.9M466.75 65.5L466.75 70.3M476.23 65.5L481.02 70.3M476.23 70.3L481.02 65.5M476.23 67.9L481.02 67.9M478.62 65.5L478.62 70.3M488.1 65.5L492.9 70.3M488.1 70.3L492.9 65.5M488.1 67.9L492.9 67.9M490.5 65.5L490.5 70.3M499.98 65.5L504.77 70.3M499.98 70.3L504.77 65.5M499.98 67.9L504.77 67.9M502.38 65.5L502.38 70.3M511.85 65.5L516.65 70.3M511.85 70.3L516.65 65.5M511.85 67.9L516.65 67.9M514.25 65.5L514.25 70.3M523.73 65.5L528.52 70.3M523.73 70.3L528.52 65.5M523.73 67.9L528.52 67.9M526.12 65.5L526.12 70.3M535.6 65.5L540.4 70.3M535.6 70.3L540.4 65.5M535.6 67.9L540.4 67.9M538 65.5L538 70.3M547.48 65.5L552.27 70.3M547.48 70.3L552.27 65.5M547.48 67.9L552.27 67.9M549.88 65.5L549.88 70.3M559.35 65.5L564.15 70.3M559.35 70.3L564.15 65.5M559.35 67.9L564.15 67.9M561.75 65.5L561.75 70.3M571.23 65.5L576.02 70.3M571.23 70.3L576.02 65.5M571.23 67.9L576.02 67.9M573.62 65.5L573.62 70.3M583.1 65.5L587.9 70.3M583.1 70.3L587.9 65.5M583.1 67.9L587.9 67.9M585.5 65.5L585.5 70.3M594.98 65.5L599.77 70.3M594.98 70.3L599.77 65.5M594.98 67.9L599.77 67.9M597.38 65.5L597.38 70.3M606.85 107.4L611.65 112.2M606.85 112.2L611.65 107.4M606.85 109.8L611.65 109.8M609.25 107.4L609.25 112.2M618.73 107.4L623.52 112.2M618.73 112.2L623.52 107.4M618.73 109.8L623.52 109.8M621.12 107.4L621.12 112.2M630.6 107.4L635.4 112.2M630.6 112.2L635.4 107.4M630.6 109.8L635.4 109.8M633 107.4L633 112.2" stroke="#ff0000" stroke-width="1.1"/>
</g>
<rect x="348" y="26" width="285" height="83.8" fill="none" stroke="#000" stroke-width="2.0"/>
<path d="M395.5 27V108.8M443.5 27V108.8M490.5 27V108.8M538.5 27V108.8M585.5 27V108.8M349 88.85H632M349 67.9H632M349 46.95H632" stroke="#000" stroke-width="1.2" stroke-dasharray="1.2 1.8" fill="none"/>
<path d="M348.5 109.8v-6M348.5 26v6M371.5 109.8v-4M371.5 26v4M395.5 109.8v-6M395.5 26v6M419.5 109.8v-4M419.5 26v4M443.5 109.8v-6M443.5 26v6M466.5 109.8v-4M466.5 26v4M490.5 109.8v-6M490.5 26v6M514.5 109.8v-4M514.5 26v4M538.5 109.8v-6M538.5 26v6M561.5 109.8v-4M561.5 26v4M585.5 109.8v-6M585.5 26v6M609.5 109.8v-4M609.5 26v4M633.5 109.8v-6M633.5 26v6M348 109.8h6M633 109.8h-6M348 99.33h4M633 99.33h-4M348 88.85h6M633 88.85h-6M348 78.38h4M633 78.38h-4M348 67.9h6M633 67.9h-6M348 57.42h4M633 57.42h-4M348 46.95h6M633 46.95h-6M348 36.47h4M633 36.47h-4M348 26h6M633 26h-6" stroke="#000" stroke-width="1" fill="none"/>
<g font-family="Liberation Sans" font-weight="bold" font-size="9" fill="#000">
<text x="348" y="121.1" text-anchor="middle">0</text>
<text x="395.5" y="121.1" text-anchor="middle">4</text>
<text x="443" y="121.1" text-anchor="middle">8</text>
<text x="490.5" y="121.1" text-anchor="middle">12</text>
<text x="538" y="121.1" text-anchor="middle">16</text>
<text x="585.5" y="121.1" text-anchor="middle">20</text>
<text x="633" y="121.1" text-anchor="middle">24</text>
<text x="343.5" y="113" text-anchor="end">1.0</text>
<text x="343.5" y="92.05" text-anchor="end">1.5</text>
<text x="343.5" y="71.1" text-anchor="end">2.0</text>
<text x="343.5" y="50.15" text-anchor="end">2.5</text>
<text x="343.5" y="29.2" text-anchor="end">3.0</text>
</g>
<text x="582" y="22.6" font-family="Liberation Serif" font-weight="bold" font-size="9.2" textLength="51.3" lengthAdjust="spacingAndGlyphs" fill="#000">AQHI (AQHI)</text>
<clipPath id="c11"><rect x="348" y="134" width="285" height="83.8"/></clipPath>
<g fill="none" stroke-linejoin="round" stroke-linecap="round" clip-path="url(#c11)">
<path d="M348 189.87 L359.88 196.85 L371.75 182.88 L383.62 182.88 L395.5 203.83 L407.38 210.82 L419.25 210.82 L431.12 196.85 L443 196.85 L454.88 189.87 L466.75 182.88 L478.62 175.9 L490.5 154.95 L502.38 154.95 L514.25 140.98 L526.12 147.97 L538 134 L549.88 140.98 L561.75 147.97 L573.62 161.93 L585.5 175.9 L597.38 175.9 L609.25 189.87 L621.12 168.92 L633 175.9" stroke="#00ffff" stroke-width="1.25"/>
<path d="M345.6 187.47L350.4 192.27M345.6 192.27L350.4 187.47M345.6 189.87L350.4 189.87M348 187.47L348 192.27M357.48 194.45L362.27 199.25M357.48 199.25L362.27 194.45M357.48 196.85L362.27 196.85M359.88 194.45L359.88 199.25M369.35 180.48L374.15 185.28M369.35 185.28L374.15 180.48M369.35 182.88L374.15 182.88M371.75 180.48L371.75 185.28M381.23 180.48L386.02 185.28M381.23 185.28L386.02 180.48M381.23 182.88L386.02 182.88M383.62 180.48L383.62 185.28M393.1 201.43L397.9 206.23M393.1 206.23L397.9 201.43M393.1 203.83L397.9 203.83M395.5 201.43L395.5 206.23M404.98 208.42L409.77 213.22M404.98 213.22L409.77 208.42M404.98 210.82L409.77 210.82M407.38 208.42L407.38 213.22M416.85 208.42L421.65 213.22M416.85 213.22L421.65 208.42M416.85 210.82L421.65 210.82M419.25 208.42L419.25 213.22M428.73 194.45L433.52 199.25M428.73 199.25L433.52 194.45M428.73 196.85L433.52 196.85M431.12 194.45L431.12 199.25M440.6 194.45L445.4 199.25M440.6 199.25L445.4 194.45M440.6 196.85L445.4 196.85M443 194.45L443 199.25M452.48 187.47L457.27 192.27M452.48 192.27L457.27 187.47M452.48 189.87L457.27 189.87M454.88 187.47L454.88 192.27M464.35 180.48L469.15 185.28M464.35 185.28L469.15 180.48M464.35 182.88L469.15 182.88M466.75 180.48L466.75 185.28M476.23 173.5L481.02 178.3M476.23 178.3L481.02 173.5M476.23 175.9L481.02 175.9M478.62 173.5L478.62 178.3M488.1 152.55L492.9 157.35M488.1 157.35L492.9 152.55M488.1 154.95L492.9 154.95M490.5 152.55L490.5 157.35M499.98 152.55L504.77 157.35M499.98 157.35L504.77 152.55M499.98 154.95L504.77 154.95M502.38 152.55L502.38 157.35M511.85 138.58L516.65 143.38M511.85 143.38L516.65 138.58M511.85 140.98L516.65 140.98M514.25 138.58L514.25 143.38M523.73 145.57L528.52 150.37M523.73 150.37L528.52 145.57M523.73 147.97L528.52 147.97M526.12 145.57L526.12 150.37M535.6 131.6L540.4 136.4M535.6 136.4L540.4 131.6M535.6 134L540.4 134M538 131.6L538 136.4M547.48 138.58L552.27 143.38M547.48 143.38L552.27 138.58M547.48 140.98L552.27 140.98M549.88 138.58L549.88 143.38M559.35 145.57L564.15 150.37M559.35 150.37L564.15 145.57M559.35 147.97L564.15 147.97M561.75 145.57L561.75 150.37M571.23 159.53L576.02 164.33M571.23 164.33L576.02 159.53M571.23 161.93L576.02 161.93M573.62 159.53L573.62 164.33M583.1 173.5L587.9 178.3M583.1 178.3L587.9 173.5M583.1 175.9L587.9 175.9M585.5 173.5L585.5 178.3M594.98 173.5L599.77 178.3M594.98 178.3L599.77 173.5M594.98 175.9L599.77 175.9M597.38 173.5L597.38 178.3M606.85 187.47L611.65 192.27M606.85 192.27L611.65 187.47M606.85 189.87L611.65 189.87M609.25 187.47L609.25 192.27M618.73 166.52L623.52 171.32M618.73 171.32L623.52 166.52M618.73 168.92L623.52 168.92M621.12 166.52L621.12 171.32M630.6 173.5L635.4 178.3M630.6 178.3L635.4 173.5M630.6 175.9L635.4 175.9M633 173.5L633 178.3" stroke="#00ffff" stroke-width="1.1"/>
<path d="M348 175.9 L359.88 175.9 L371.75 196.85 L383.62 196.85 L395.5 175.9 L407.38 175.9 L419.25 175.9 L431.12 196.85 L443 182.88 L454.88 175.9 L466.75 161.93 L478.62 175.9 L490.5 182.88 L502.38 168.92 L514.25 175.9 L526.12 182.88 L538 175.9 L549.88 154.95 L561.75 182.88 L573.62 175.9 L585.5 154.95 L597.38 182.88 L609.25 182.88 L621.12 182.88 L633 189.87" stroke="#00ff00" stroke-width="1.25"/>
<path d="M345.6 173.5L350.4 178.3M345.6 178.3L350.4 173.5M345.6 175.9L350.4 175.9M348 173.5L348 178.3M357.48 173.5L362.27 178.3M357.48 178.3L362.27 173.5M357.48 175.9L362.27 175.9M359.88 173.5L359.88 178.3M369.35 194.45L374.15 199.25M369.35 199.25L374.15 194.45M369.35 196.85L374.15 196.85M371.75 194.45L371.75 199.25M381.23 194.45L386.02 199.25M381.23 199.25L386.02 194.45M381.23 196.85L386.02 196.85M383.62 194.45L383.62 199.25M393.1 173.5L397.9 178.3M393.1 178.3L397.9 173.5M393.1 175.9L397.9 175.9M395.5 173.5L395.5 178.3M404.98 173.5L409.77 178.3M404.98 178.3L409.77 173.5M404.98 175.9L409.77 175.9M407.38 173.5L407.38 178.3M416.85 173.5L421.65 178.3M416.85 178.3L421.65 173.5M416.85 175.9L421.65 175.9M419.25 173.5L419.25 178.3M428.73 194.45L433.52 199.25M428.73 199.25L433.52 194.45M428.73 196.85L433.52 196.85M431.12 194.45L431.12 199.25M440.6 180.48L445.4 185.28M440.6 185.28L445.4 180.48M440.6 182.88L445.4 182.88M443 180.48L443 185.28M452.48 173.5L457.27 178.3M452.48 178.3L457.27 173.5M452.48 175.9L457.27 175.9M454.88 173.5L454.88 178.3M464.35 159.53L469.15 164.33M464.35 164.33L469.15 159.53M464.35 161.93L469.15 161.93M466.75 159.53L466.75 164.33M476.23 173.5L481.02 178.3M476.23 178.3L481.02 173.5M476.23 175.9L481.02 175.9M478.62 173.5L478.62 178.3M488.1 180.48L492.9 185.28M488.1 185.28L492.9 180.48M488.1 182.88L492.9 182.88M490.5 180.48L490.5 185.28M499.98 166.52L504.77 171.32M499.98 171.32L504.77 166.52M499.98 168.92L504.77 168.92M502.38 166.52L502.38 171.32M511.85 173.5L516.65 178.3M511.85 178.3L516.65 173.5M511.85 175.9L516.65 175.9M514.25 173.5L514.25 178.3M523.73 180.48L528.52 185.28M523.73 185.28L528.52 180.48M523.73 182.88L528.52 182.88M526.12 180.48L526.12 185.28M535.6 173.5L540.4 178.3M535.6 178.3L540.4 173.5M535.6 175.9L540.4 175.9M538 173.5L538 178.3M547.48 152.55L552.27 157.35M547.48 157.35L552.27 152.55M547.48 154.95L552.27 154.95M549.88 152.55L549.88 157.35M559.35 180.48L564.15 185.28M559.35 185.28L564.15 180.48M559.35 182.88L564.15 182.88M561.75 180.48L561.75 185.28M571.23 173.5L576.02 178.3M571.23 178.3L576.02 173.5M571.23 175.9L576.02 175.9M573.62 173.5L573.62 178.3M583.1 152.55L587.9 157.35M583.1 157.35L587.9 152.55M583.1 154.95L587.9 154.95M585.5 152.55L585.5 157.35M594.98 180.48L599.77 185.28M594.98 185.28L599.77 180.48M594.98 182.88L599.77 182.88M597.38 180.48L597.38 185.28M606.85 180.48L611.65 185.28M606.85 185.28L611.65 180.48M606.85 182.88L611.65 182.88M609.25 180.48L609.25 185.28M618.73 180.48L623.52 185.28M618.73 185.28L623.52 180.48M618.73 182.88L623.52 182.88M621.12 180.48L621.12 185.28M630.6 187.47L635.4 192.27M630.6 192.27L635.4 187.47M630.6 189.87L635.4 189.87M633 187.47L633 192.27" stroke="#00ff00" stroke-width="1.1"/>
<path d="M348 189.87 L359.88 182.88 L371.75 182.88 L383.62 196.85 L395.5 196.85 L407.38 203.83 L419.25 189.87 L431.12 210.82 L443 196.85 L454.88 189.87 L466.75 182.88 L478.62 175.9 L490.5 203.83 L502.38 134 L514.25 147.97 L526.12 196.85 L538 182.88 L549.88 161.93 L561.75 196.85 L573.62 175.9 L585.5 175.9 L597.38 182.88 L609.25 182.88 L621.12 203.83 L633 189.87" stroke="#0000ff" stroke-width="1.25"/>
<path d="M345.6 187.47L350.4 192.27M345.6 192.27L350.4 187.47M345.6 189.87L350.4 189.87M348 187.47L348 192.27M357.48 180.48L362.27 185.28M357.48 185.28L362.27 180.48M357.48 182.88L362.27 182.88M359.88 180.48L359.88 185.28M369.35 180.48L374.15 185.28M369.35 185.28L374.15 180.48M369.35 182.88L374.15 182.88M371.75 180.48L371.75 185.28M381.23 194.45L386.02 199.25M381.23 199.25L386.02 194.45M381.23 196.85L386.02 196.85M383.62 194.45L383.62 199.25M393.1 194.45L397.9 199.25M393.1 199.25L397.9 194.45M393.1 196.85L397.9 196.85M395.5 194.45L395.5 199.25M404.98 201.43L409.77 206.23M404.98 206.23L409.77 201.43M404.98 203.83L409.77 203.83M407.38 201.43L407.38 206.23M416.85 187.47L421.65 192.27M416.85 192.27L421.65 187.47M416.85 189.87L421.65 189.87M419.25 187.47L419.25 192.27M428.73 208.42L433.52 213.22M428.73 213.22L433.52 208.42M428.73 210.82L433.52 210.82M431.12 208.42L431.12 213.22M440.6 194.45L445.4 199.25M440.6 199.25L445.4 194.45M440.6 196.85L445.4 196.85M443 194.45L443 199.25M452.48 187.47L457.27 192.27M452.48 192.27L457.27 187.47M452.48 189.87L457.27 189.87M454.88 187.47L454.88 192.27M464.35 180.48L469.15 185.28M464.35 185.28L469.15 180.48M464.35 182.88L469.15 182.88M466.75 180.48L466.75 185.28M476.23 173.5L481.02 178.3M476.23 178.3L481.02 173.5M476.23 175.9L481.02 175.9M478.62 173.5L478.62 178.3M488.1 201.43L492.9 206.23M488.1 206.23L492.9 201.43M488.1 203.83L492.9 203.83M490.5 201.43L490.5 206.23M499.98 131.6L504.77 136.4M499.98 136.4L504.77 131.6M499.98 134L504.77 134M502.38 131.6L502.38 136.4M511.85 145.57L516.65 150.37M511.85 150.37L516.65 145.57M511.85 147.97L516.65 147.97M514.25 145.57L514.25 150.37M523.73 194.45L528.52 199.25M523.73 199.25L528.52 194.45M523.73 196.85L528.52 196.85M526.12 194.45L526.12 199.25M535.6 180.48L540.4 185.28M535.6 185.28L540.4 180.48M535.6 182.88L540.4 182.88M538 180.48L538 185.28M547.48 159.53L552.27 164.33M547.48 164.33L552.27 159.53M547.48 161.93L552.27 161.93M549.88 159.53L549.88 164.33M559.35 194.45L564.15 199.25M559.35 199.25L564.15 194.45M559.35 196.85L564.15 196.85M561.75 194.45L561.75 199.25M571.23 173.5L576.02 178.3M571.23 178.3L576.02 173.5M571.23 175.9L576.02 175.9M573.62 173.5L573.62 178.3M583.1 173.5L587.9 178.3M583.1 178.3L587.9 173.5M583.1 175.9L587.9 175.9M585.5 173.5L585.5 178.3M594.98 180.48L599.77 185.28M594.98 185.28L599.77 180.48M594.98 182.88L599.77 182.88M597.38 180.48L597.38 185.28M606.85 180.48L611.65 185.28M606.85 185.28L611.65 180.48M606.85 182.88L611.65 182.88M609.25 180.48L609.25 185.28M618.73 201.43L623.52 206.23M618.73 206.23L623.52 201.43M618.73 203.83L623.52 203.83M621.12 201.43L621.12 206.23M630.6 187.47L635.4 192.27M630.6 192.27L635.4 187.47M630.6 189.87L635.4 189.87M633 187.47L633 192.27" stroke="#0000ff" stroke-width="1.1"/>
<path d="M348 189.87 L359.88 182.88 L371.75 175.9 L383.62 175.9 L395.5 203.83 L407.38 196.85 L419.25 217.8 L431.12 210.82 L443 217.8 L454.88 168.92 L466.75 182.88 L478.62 182.88 L490.5 182.88 L502.38 196.85 L514.25 210.82 L526.12 189.87 L538 210.82 L549.88 203.83 L561.75 196.85 L573.62 175.9 L585.5 189.87 L597.38 217.8 L609.25 196.85 L621.12 196.85 L633 203.83" stroke="#ff0000" stroke-width="1.25"/>
<path d="M345.6 187.47L350.4 192.27M345.6 192.27L350.4 187.47M345.6 189.87L350.4 189.87M348 187.47L348 192.27M357.48 180.48L362.27 185.28M357.48 185.28L362.27 180.48M357.48 182.88L362.27 182.88M359.88 180.48L359.88 185.28M369.35 173.5L374.15 178.3M369.35 178.3L374.15 173.5M369.35 175.9L374.15 175.9M371.75 173.5L371.75 178.3M381.23 173.5L386.02 178.3M381.23 178.3L386.02 173.5M381.23 175.9L386.02 175.9M383.62 173.5L383.62 178.3M393.1 201.43L397.9 206.23M393.1 206.23L397.9 201.43M393.1 203.83L397.9 203.83M395.5 201.43L395.5 206.23M404.98 194.45L409.77 199.25M404.98 199.25L409.77 194.45M404.98 196.85L409.77 196.85M407.38 194.45L407.38 199.25M416.85 215.4L421.65 220.2M416.85 220.2L421.65 215.4M416.85 217.8L421.65 217.8M419.25 215.4L419.25 220.2M428.73 208.42L433.52 213.22M428.73 213.22L433.52 208.42M428.73 210.82L433.52 210.82M431.12 208.42L431.12 213.22M440.6 215.4L445.4 220.2M440.6 220.2L445.4 215.4M440.6 217.8L445.4 217.8M443 215.4L443 220.2M452.48 166.52L457.27 171.32M452.48 171.32L457.27 166.52M452.48 168.92L457.27 168.92M454.88 166.52L454.88 171.32M464.35 180.48L469.15 185.28M464.35 185.28L469.15 180.48M464.35 182.88L469.15 182.88M466.75 180.48L466.75 185.28M476.23 180.48L481.02 185.28M476.23 185.28L481.02 180.48M476.23 182.88L481.02 182.88M478.62 180.48L478.62 185.28M488.1 180.48L492.9 185.28M488.1 185.28L492.9 180.48M488.1 182.88L492.9 182.88M490.5 180.48L490.5 185.28M499.98 194.45L504.77 199.25M499.98 199.25L504.77 194.45M499.98 196.85L504.77 196.85M502.38 194.45L502.38 199.25M511.85 208.42L516.65 213.22M511.85 213.22L516.65 208.42M511.85 210.82L516.65 210.82M514.25 208.42L514.25 213.22M523.73 187.47L528.52 192.27M523.73 192.27L528.52 187.47M523.73 189.87L528.52 189.87M526.12 187.47L526.12 192.27M535.6 208.42L540.4 213.22M535.6 213.22L540.4 208.42M535.6 210.82L540.4 210.82M538 208.42L538 213.22M547.48 201.43L552.27 206.23M547.48 206.23L552.27 201.43M547.48 203.83L552.27 203.83M549.88 201.43L549.88 206.23M559.35 194.45L564.15 199.25M559.35 199.25L564.15 194.45M559.35 196.85L564.15 196.85M561.75 194.45L561.75 199.25M571.23 173.5L576.02 178.3M571.23 178.3L576.02 173.5M571.23 175.9L576.02 175.9M573.62 173.5L573.62 178.3M583.1 187.47L587.9 192.27M583.1 192.27L587.9 187.47M583.1 189.87L587.9 189.87M585.5 187.47L585.5 192.27M594.98 215.4L599.77 220.2M594.98 220.2L599.77 215.4M594.98 217.8L599.77 217.8M597.38 215.4L597.38 220.2M606.85 194.45L611.65 199.25M606.85 199.25L611.65 194.45M606.85 196.85L611.65 196.85M609.25 194.45L609.25 199.25M618.73 194.45L623.52 199.25M618.73 199.25L623.52 194.45M618.73 196.85L623.52 196.85M621.12 194.45L621.12 199.25M630.6 201.43L635.4 206.23M630.6 206.23L635.4 201.43M630.6 203.83L635.4 203.83M633 201.43L633 206.23" stroke="#ff0000" stroke-width="1.1"/>
</g>
<rect x="348" y="134" width="285" height="83.8" fill="none" stroke="#000" stroke-width="2.0"/>
<path d="M395.5 135V216.8M443.5 135V216.8M490.5 135V216.8M538.5 135V216.8M585.5 135V216.8M349 203.83H632M349 189.87H632M349 175.9H632M349 161.93H632M349 147.97H632" stroke="#000" stroke-width="1.2" stroke-dasharray="1.2 1.8" fill="none"/>
<path d="M348.5 217.8v-6M348.5 134v6M371.5 217.8v-4M371.5 134v4M395.5 217.8v-6M395.5 134v6M419.5 217.8v-4M419.5 134v4M443.5 217.8v-6M443.5 134v6M466.5 217.8v-4M466.5 134v4M490.5 217.8v-6M490.5 134v6M514.5 217.8v-4M514.5 134v4M538.5 217.8v-6M538.5 134v6M561.5 217.8v-4M561.5 134v4M585.5 217.8v-6M585.5 134v6M609.5 217.8v-4M609.5 134v4M633.5 217.8v-6M633.5 134v6M348 217.8h6M633 217.8h-6M348 210.82h4M633 210.82h-4M348 203.83h6M633 203.83h-6M348 196.85h4M633 196.85h-4M348 189.87h6M633 189.87h-6M348 182.88h4M633 182.88h-4M348 175.9h6M633 175.9h-6M348 168.92h4M633 168.92h-4M348 161.93h6M633 161.93h-6M348 154.95h4M633 154.95h-4M348 147.97h6M633 147.97h-6M348 140.98h4M633 140.98h-4M348 134h6M633 134h-6" stroke="#000" stroke-width="1" fill="none"/>
<g font-family="Liberation Sans" font-weight="bold" font-size="9" fill="#000">
<text x="348" y="229.1" text-anchor="middle">0</text>
<text x="395.5" y="229.1" text-anchor="middle">4</text>
<text x="443" y="229.1" text-anchor="middle">8</text>
<text x="490.5" y="229.1" text-anchor="middle">12</text>
<text x="538" y="229.1" text-anchor="middle">16</text>
<text x="585.5" y="229.1" text-anchor="middle">20</text>
<text x="633" y="229.1" text-anchor="middle">24</text>
<text x="343.5" y="221" text-anchor="end">2</text>
<text x="343.5" y="207.03" text-anchor="end">4</text>
<text x="343.5" y="193.07" text-anchor="end">6</text>
<text x="343.5" y="179.1" text-anchor="end">8</text>
<text x="343.5" y="165.13" text-anchor="end">10</text>
<text x="343.5" y="151.17" text-anchor="end">12</text>
<text x="343.5" y="137.2" text-anchor="end">14</text>
</g>
<text x="577.1" y="130.6" font-family="Liberation Serif" font-weight="bold" font-size="9.2" textLength="56.2" lengthAdjust="spacingAndGlyphs" fill="#000">RSP (ug/m3)</text>
<clipPath id="c12"><rect x="348" y="242.2" width="285" height="83.8"/></clipPath>
<g fill="none" stroke-linejoin="round" stroke-linecap="round" clip-path="url(#c12)">
<path d="M348 311.63 L359.88 310.44 L371.75 304.21 L383.62 315.47 L395.5 317.02 L407.38 315.94 L419.25 311.87 L431.12 315.23 L443 305.89 L454.88 307.8 L466.75 301.34 L478.62 288.89 L490.5 269.49 L502.38 258.48 L514.25 253.45 L526.12 254.77 L538 261.11 L549.88 266.38 L561.75 269.97 L573.62 275.24 L585.5 284.1 L597.38 285.06 L609.25 284.34 L621.12 288.17 L633 287.81" stroke="#00ffff" stroke-width="1.25"/>
<path d="M345.6 309.23L350.4 314.03M345.6 314.03L350.4 309.23M345.6 311.63L350.4 311.63M348 309.23L348 314.03M357.48 308.04L362.27 312.84M357.48 312.84L362.27 308.04M357.48 310.44L362.27 310.44M359.88 308.04L359.88 312.84M369.35 301.81L374.15 306.61M369.35 306.61L374.15 301.81M369.35 304.21L374.15 304.21M371.75 301.81L371.75 306.61M381.23 313.07L386.02 317.87M381.23 317.87L386.02 313.07M381.23 315.47L386.02 315.47M383.62 313.07L383.62 317.87M393.1 314.62L397.9 319.42M393.1 319.42L397.9 314.62M393.1 317.02L397.9 317.02M395.5 314.62L395.5 319.42M404.98 313.54L409.77 318.34M404.98 318.34L409.77 313.54M404.98 315.94L409.77 315.94M407.38 313.54L407.38 318.34M416.85 309.47L421.65 314.27M416.85 314.27L421.65 309.47M416.85 311.87L421.65 311.87M419.25 309.47L419.25 314.27M428.73 312.83L433.52 317.63M428.73 317.63L433.52 312.83M428.73 315.23L433.52 315.23M431.12 312.83L431.12 317.63M440.6 303.49L445.4 308.29M440.6 308.29L445.4 303.49M440.6 305.89L445.4 305.89M443 303.49L443 308.29M452.48 305.4L457.27 310.2M452.48 310.2L457.27 305.4M452.48 307.8L457.27 307.8M454.88 305.4L454.88 310.2M464.35 298.94L469.15 303.74M464.35 303.74L469.15 298.94M464.35 301.34L469.15 301.34M466.75 298.94L466.75 303.74M476.23 286.49L481.02 291.29M476.23 291.29L481.02 286.49M476.23 288.89L481.02 288.89M478.62 286.49L478.62 291.29M488.1 267.09L492.9 271.89M488.1 271.89L492.9 267.09M488.1 269.49L492.9 269.49M490.5 267.09L490.5 271.89M499.98 256.08L504.77 260.88M499.98 260.88L504.77 256.08M499.98 258.48L504.77 258.48M502.38 256.08L502.38 260.88M511.85 251.05L516.65 255.85M511.85 255.85L516.65 251.05M511.85 253.45L516.65 253.45M514.25 251.05L514.25 255.85M523.73 252.37L528.52 257.17M523.73 257.17L528.52 252.37M523.73 254.77L528.52 254.77M526.12 252.37L526.12 257.17M535.6 258.71L540.4 263.51M535.6 263.51L540.4 258.71M535.6 261.11L540.4 261.11M538 258.71L538 263.51M547.48 263.98L552.27 268.78M547.48 268.78L552.27 263.98M547.48 266.38L552.27 266.38M549.88 263.98L549.88 268.78M559.35 267.57L564.15 272.37M559.35 272.37L564.15 267.57M559.35 269.97L564.15 269.97M561.75 267.57L561.75 272.37M571.23 272.84L576.02 277.64M571.23 277.64L576.02 272.84M571.23 275.24L576.02 275.24M573.62 272.84L573.62 277.64M583.1 281.7L587.9 286.5M583.1 286.5L587.9 281.7M583.1 284.1L587.9 284.1M585.5 281.7L585.5 286.5M594.98 282.66L599.77 287.46M594.98 287.46L599.77 282.66M594.98 285.06L599.77 285.06M597.38 282.66L597.38 287.46M606.85 281.94L611.65 286.74M606.85 286.74L611.65 281.94M606.85 284.34L611.65 284.34M609.25 281.94L609.25 286.74M618.73 285.77L623.52 290.57M618.73 290.57L623.52 285.77M618.73 288.17L623.52 288.17M621.12 285.77L621.12 290.57M630.6 285.41L635.4 290.21M630.6 290.21L635.4 285.41M630.6 287.81L635.4 287.81M633 285.41L633 290.21" stroke="#00ffff" stroke-width="1.1"/>
<path d="M348 289.37 L371.75 290.68 L383.62 289.37 L395.5 291.76 L407.38 294.23 L419.25 299.18 L431.12 302.66 L443 302.06 L454.88 299.18 L466.75 290.09 L478.62 282.66 L490.5 278.35 L502.38 273.8 L514.25 275.96 L526.12 275.96 L538 277.4 L549.88 285.06 L561.75 288.89 L573.62 290.56 L585.5 295.35 L597.38 296.07 L609.25 299.66 L621.12 309 L633 311.16" stroke="#00ff00" stroke-width="1.25"/>
<path d="M345.6 286.97L350.4 291.77M345.6 291.77L350.4 286.97M345.6 289.37L350.4 289.37M348 286.97L348 291.77M369.35 288.28L374.15 293.08M369.35 293.08L374.15 288.28M369.35 290.68L374.15 290.68M371.75 288.28L371.75 293.08M381.23 286.97L386.02 291.77M381.23 291.77L386.02 286.97M381.23 289.37L386.02 289.37M383.62 286.97L383.62 291.77M393.1 289.36L397.9 294.16M393.1 294.16L397.9 289.36M393.1 291.76L397.9 291.76M395.5 289.36L395.5 294.16M404.98 291.83L409.77 296.63M404.98 296.63L409.77 291.83M404.98 294.23L409.77 294.23M407.38 291.83L407.38 296.63M416.85 296.78L421.65 301.58M416.85 301.58L421.65 296.78M416.85 299.18L421.65 299.18M419.25 296.78L419.25 301.58M428.73 300.26L433.52 305.06M428.73 305.06L433.52 300.26M428.73 302.66L433.52 302.66M431.12 300.26L431.12 305.06M440.6 299.66L445.4 304.46M440.6 304.46L445.4 299.66M440.6 302.06L445.4 302.06M443 299.66L443 304.46M452.48 296.78L457.27 301.58M452.48 301.58L457.27 296.78M452.48 299.18L457.27 299.18M454.88 296.78L454.88 301.58M464.35 287.69L469.15 292.49M464.35 292.49L469.15 287.69M464.35 290.09L469.15 290.09M466.75 287.69L466.75 292.49M476.23 280.26L481.02 285.06M476.23 285.06L481.02 280.26M476.23 282.66L481.02 282.66M478.62 280.26L478.62 285.06M488.1 275.95L492.9 280.75M488.1 280.75L492.9 275.95M488.1 278.35L492.9 278.35M490.5 275.95L490.5 280.75M499.98 271.4L504.77 276.2M499.98 276.2L504.77 271.4M499.98 273.8L504.77 273.8M502.38 271.4L502.38 276.2M511.85 273.56L516.65 278.36M511.85 278.36L516.65 273.56M511.85 275.96L516.65 275.96M514.25 273.56L514.25 278.36M523.73 273.56L528.52 278.36M523.73 278.36L528.52 273.56M523.73 275.96L528.52 275.96M526.12 273.56L526.12 278.36M535.6 275L540.4 279.8M535.6 279.8L540.4 275M535.6 277.4L540.4 277.4M538 275L538 279.8M547.48 282.66L552.27 287.46M547.48 287.46L552.27 282.66M547.48 285.06L552.27 285.06M549.88 282.66L549.88 287.46M559.35 286.49L564.15 291.29M559.35 291.29L564.15 286.49M559.35 288.89L564.15 288.89M561.75 286.49L561.75 291.29M571.23 288.16L576.02 292.96M571.23 292.96L576.02 288.16M571.23 290.56L576.02 290.56M573.62 288.16L573.62 292.96M583.1 292.95L587.9 297.75M583.1 297.75L587.9 292.95M583.1 295.35L587.9 295.35M585.5 292.95L585.5 297.75M594.98 293.67L599.77 298.47M594.98 298.47L599.77 293.67M594.98 296.07L599.77 296.07M597.38 293.67L597.38 298.47M606.85 297.26L611.65 302.06M606.85 302.06L611.65 297.26M606.85 299.66L611.65 299.66M609.25 297.26L609.25 302.06M618.73 306.6L623.52 311.4M618.73 311.4L623.52 306.6M618.73 309L623.52 309M621.12 306.6L621.12 311.4M630.6 308.76L635.4 313.56M630.6 313.56L635.4 308.76M630.6 311.16L635.4 311.16M633 308.76L633 313.56" stroke="#00ff00" stroke-width="1.1"/>
<path d="M348 312.11 L359.88 310.2 L371.75 309 L383.62 311.16 L395.5 307.56 L407.38 301.34 L419.25 301.34 L431.12 296.79 L443 296.79 L454.88 292.72 L466.75 287.21 L478.62 280.51 L490.5 277.87 L502.38 288.89 L514.25 287.93 L526.12 288.89 L538 275.24 L549.88 285.06 L561.75 291.28 L573.62 297.75 L585.5 300.86 L597.38 296.07 L609.25 304.69 L621.12 309.24 L633 308.52" stroke="#0000ff" stroke-width="1.25"/>
<path d="M345.6 309.71L350.4 314.51M345.6 314.51L350.4 309.71M345.6 312.11L350.4 312.11M348 309.71L348 314.51M357.48 307.8L362.27 312.6M357.48 312.6L362.27 307.8M357.48 310.2L362.27 310.2M359.88 307.8L359.88 312.6M369.35 306.6L374.15 311.4M369.35 311.4L374.15 306.6M369.35 309L374.15 309M371.75 306.6L371.75 311.4M381.23 308.76L386.02 313.56M381.23 313.56L386.02 308.76M381.23 311.16L386.02 311.16M383.62 308.76L383.62 313.56M393.1 305.16L397.9 309.96M393.1 309.96L397.9 305.16M393.1 307.56L397.9 307.56M395.5 305.16L395.5 309.96M404.98 298.94L409.77 303.74M404.98 303.74L409.77 298.94M404.98 301.34L409.77 301.34M407.38 298.94L407.38 303.74M416.85 298.94L421.65 303.74M416.85 303.74L421.65 298.94M416.85 301.34L421.65 301.34M419.25 298.94L419.25 303.74M428.73 294.39L433.52 299.19M428.73 299.19L433.52 294.39M428.73 296.79L433.52 296.79M431.12 294.39L431.12 299.19M440.6 294.39L445.4 299.19M440.6 299.19L445.4 294.39M440.6 296.79L445.4 296.79M443 294.39L443 299.19M452.48 290.32L457.27 295.12M452.48 295.12L457.27 290.32M452.48 292.72L457.27 292.72M454.88 290.32L454.88 295.12M464.35 284.81L469.15 289.61M464.35 289.61L469.15 284.81M464.35 287.21L469.15 287.21M466.75 284.81L466.75 289.61M476.23 278.11L481.02 282.91M476.23 282.91L481.02 278.11M476.23 280.51L481.02 280.51M478.62 278.11L478.62 282.91M488.1 275.47L492.9 280.27M488.1 280.27L492.9 275.47M488.1 277.87L492.9 277.87M490.5 275.47L490.5 280.27M499.98 286.49L504.77 291.29M499.98 291.29L504.77 286.49M499.98 288.89L504.77 288.89M502.38 286.49L502.38 291.29M511.85 285.53L516.65 290.33M511.85 290.33L516.65 285.53M511.85 287.93L516.65 287.93M514.25 285.53L514.25 290.33M523.73 286.49L528.52 291.29M523.73 291.29L528.52 286.49M523.73 288.89L528.52 288.89M526.12 286.49L526.12 291.29M535.6 272.84L540.4 277.64M535.6 277.64L540.4 272.84M535.6 275.24L540.4 275.24M538 272.84L538 277.64M547.48 282.66L552.27 287.46M547.48 287.46L552.27 282.66M547.48 285.06L552.27 285.06M549.88 282.66L549.88 287.46M559.35 288.88L564.15 293.68M559.35 293.68L564.15 288.88M559.35 291.28L564.15 291.28M561.75 288.88L561.75 293.68M571.23 295.35L576.02 300.15M571.23 300.15L576.02 295.35M571.23 297.75L576.02 297.75M573.62 295.35L573.62 300.15M583.1 298.46L587.9 303.26M583.1 303.26L587.9 298.46M583.1 300.86L587.9 300.86M585.5 298.46L585.5 303.26M594.98 293.67L599.77 298.47M594.98 298.47L599.77 293.67M594.98 296.07L599.77 296.07M597.38 293.67L597.38 298.47M606.85 302.29L611.65 307.09M606.85 307.09L611.65 302.29M606.85 304.69L611.65 304.69M609.25 302.29L609.25 307.09M618.73 306.84L623.52 311.64M618.73 311.64L623.52 306.84M618.73 309.24L623.52 309.24M621.12 306.84L621.12 311.64M630.6 306.12L635.4 310.92M630.6 310.92L635.4 306.12M630.6 308.52L635.4 308.52M633 306.12L633 310.92" stroke="#0000ff" stroke-width="1.1"/>
<path d="M348 307.56 L371.75 317.38 L383.62 321.69 L395.5 322.41 L407.38 318.82 L419.25 322.41 L431.12 323.85 L443 311.16 L454.88 304.21 L466.75 301.58 L478.62 297.87 L490.5 281.71 L502.38 262.55 L514.25 281.71 L526.12 283.14 L538 269.97 L549.88 263.99 L561.75 269.02 L573.62 284.1 L585.5 289.37 L597.38 303.25 L609.25 312.59 L621.12 308.52 L633 313.79" stroke="#ff0000" stroke-width="1.25"/>
<path d="M345.6 305.16L350.4 309.96M345.6 309.96L350.4 305.16M345.6 307.56L350.4 307.56M348 305.16L348 309.96M369.35 314.98L374.15 319.78M369.35 319.78L374.15 314.98M369.35 317.38L374.15 317.38M371.75 314.98L371.75 319.78M381.23 319.29L386.02 324.09M381.23 324.09L386.02 319.29M381.23 321.69L386.02 321.69M383.62 319.29L383.62 324.09M393.1 320.01L397.9 324.81M393.1 324.81L397.9 320.01M393.1 322.41L397.9 322.41M395.5 320.01L395.5 324.81M404.98 316.42L409.77 321.22M404.98 321.22L409.77 316.42M404.98 318.82L409.77 318.82M407.38 316.42L407.38 321.22M416.85 320.01L421.65 324.81M416.85 324.81L421.65 320.01M416.85 322.41L421.65 322.41M419.25 320.01L419.25 324.81M428.73 321.45L433.52 326.25M428.73 326.25L433.52 321.45M428.73 323.85L433.52 323.85M431.12 321.45L431.12 326.25M440.6 308.76L445.4 313.56M440.6 313.56L445.4 308.76M440.6 311.16L445.4 311.16M443 308.76L443 313.56M452.48 301.81L457.27 306.61M452.48 306.61L457.27 301.81M452.48 304.21L457.27 304.21M454.88 301.81L454.88 306.61M464.35 299.18L469.15 303.98M464.35 303.98L469.15 299.18M464.35 301.58L469.15 301.58M466.75 299.18L466.75 303.98M476.23 295.47L481.02 300.27M476.23 300.27L481.02 295.47M476.23 297.87L481.02 297.87M478.62 295.47L478.62 300.27M488.1 279.31L492.9 284.11M488.1 284.11L492.9 279.31M488.1 281.71L492.9 281.71M490.5 279.31L490.5 284.11M499.98 260.15L504.77 264.95M499.98 264.95L504.77 260.15M499.98 262.55L504.77 262.55M502.38 260.15L502.38 264.95M511.85 279.31L516.65 284.11M511.85 284.11L516.65 279.31M511.85 281.71L516.65 281.71M514.25 279.31L514.25 284.11M523.73 280.74L528.52 285.54M523.73 285.54L528.52 280.74M523.73 283.14L528.52 283.14M526.12 280.74L526.12 285.54M535.6 267.57L540.4 272.37M535.6 272.37L540.4 267.57M535.6 269.97L540.4 269.97M538 267.57L538 272.37M547.48 261.59L552.27 266.39M547.48 266.39L552.27 261.59M547.48 263.99L552.27 263.99M549.88 261.59L549.88 266.39M559.35 266.62L564.15 271.42M559.35 271.42L564.15 266.62M559.35 269.02L564.15 269.02M561.75 266.62L561.75 271.42M571.23 281.7L576.02 286.5M571.23 286.5L576.02 281.7M571.23 284.1L576.02 284.1M573.62 281.7L573.62 286.5M583.1 286.97L587.9 291.77M583.1 291.77L587.9 286.97M583.1 289.37L587.9 289.37M585.5 286.97L585.5 291.77M594.98 300.85L599.77 305.65M594.98 305.65L599.77 300.85M594.98 303.25L599.77 303.25M597.38 300.85L597.38 305.65M606.85 310.19L611.65 314.99M606.85 314.99L611.65 310.19M606.85 312.59L611.65 312.59M609.25 310.19L609.25 314.99M618.73 306.12L623.52 310.92M618.73 310.92L623.52 306.12M618.73 308.52L623.52 308.52M621.12 306.12L621.12 310.92M630.6 311.39L635.4 316.19M630.6 316.19L635.4 311.39M630.6 313.79L635.4 313.79M633 311.39L633 316.19" stroke="#ff0000" stroke-width="1.1"/>
</g>
<rect x="348" y="242.2" width="285" height="83.8" fill="none" stroke="#000" stroke-width="2.0"/>
<path d="M395.5 243.2V325M443.5 243.2V325M490.5 243.2V325M538.5 243.2V325M585.5 243.2V325M349 314.03H632M349 302.06H632M349 290.09H632M349 278.11H632M349 266.14H632M349 254.17H632" stroke="#000" stroke-width="1.2" stroke-dasharray="1.2 1.8" fill="none"/>
<path d="M348.5 326v-6M348.5 242.2v6M371.5 326v-4M371.5 242.2v4M395.5 326v-6M395.5 242.2v6M419.5 326v-4M419.5 242.2v4M443.5 326v-6M443.5 242.2v6M466.5 326v-4M466.5 242.2v4M490.5 326v-6M490.5 242.2v6M514.5 326v-4M514.5 242.2v4M538.5 326v-6M538.5 242.2v6M561.5 326v-4M561.5 242.2v4M585.5 326v-6M585.5 242.2v6M609.5 326v-4M609.5 242.2v4M633.5 326v-6M633.5 242.2v6M348 326h6M633 326h-6M348 320.01h4M633 320.01h-4M348 314.03h6M633 314.03h-6M348 308.04h4M633 308.04h-4M348 302.06h6M633 302.06h-6M348 296.07h4M633 296.07h-4M348 290.09h6M633 290.09h-6M348 284.1h4M633 284.1h-4M348 278.11h6M633 278.11h-6M348 272.13h4M633 272.13h-4M348 266.14h6M633 266.14h-6M348 260.16h4M633 260.16h-4M348 254.17h6M633 254.17h-6M348 248.19h4M633 248.19h-4M348 242.2h6M633 242.2h-6" stroke="#000" stroke-width="1" fill="none"/>
<g font-family="Liberation Sans" font-weight="bold" font-size="9" fill="#000">
<text x="348" y="337.3" text-anchor="middle">0</text>
<text x="395.5" y="337.3" text-anchor="middle">4</text>
<text x="443" y="337.3" text-anchor="middle">8</text>
<text x="490.5" y="337.3" text-anchor="middle">12</text>
<text x="538" y="337.3" text-anchor="middle">16</text>
<text x="585.5" y="337.3" text-anchor="middle">20</text>
<text x="633" y="337.3" text-anchor="middle">24</text>
<text x="343.5" y="329.2" text-anchor="end">5</text>
<text x="343.5" y="317.23" text-anchor="end">10</text>
<text x="343.5" y="305.26" text-anchor="end">15</text>
<text x="343.5" y="293.29" text-anchor="end">20</text>
<text x="343.5" y="281.31" text-anchor="end">25</text>
<text x="343.5" y="269.34" text-anchor="end">30</text>
<text x="343.5" y="257.37" text-anchor="end">35</text>
<text x="343.5" y="245.4" text-anchor="end">40</text>
</g>
<text x="597.2" y="238.8" font-family="Liberation Serif" font-weight="bold" font-size="9.2" textLength="36.1" lengthAdjust="spacingAndGlyphs" fill="#000">O3 (ppb)</text>
<clipPath id="c20"><rect x="673" y="26" width="285" height="83.8"/></clipPath>
<g fill="none" stroke-linejoin="round" stroke-linecap="round" clip-path="url(#c20)">
<path d="M673 68.18 L684.88 75.16 L696.75 81.03 L708.62 84.38 L720.5 86.34 L732.38 88.01 L744.25 88.57 L756.12 88.57 L768 88.57 L779.88 88.57 L791.75 88.57 L803.62 88.57 L815.5 88.57 L827.38 82.15 L839.25 74.32 L851.12 65.39 L863 57.84 L874.88 51.14 L886.75 45.27 L898.62 40.25 L910.5 37.73 L922.38 40.25 L934.25 44.72 L946.12 50.02 L958 55.89" stroke="#00ffff" stroke-width="1.25"/>
<path d="M670.6 65.78L675.4 70.58M670.6 70.58L675.4 65.78M670.6 68.18L675.4 68.18M673 65.78L673 70.58M682.48 72.76L687.27 77.56M682.48 77.56L687.27 72.76M682.48 75.16L687.27 75.16M684.88 72.76L684.88 77.56M694.35 78.63L699.15 83.43M694.35 83.43L699.15 78.63M694.35 81.03L699.15 81.03M696.75 78.63L696.75 83.43M706.23 81.98L711.02 86.78M706.23 86.78L711.02 81.98M706.23 84.38L711.02 84.38M708.62 81.98L708.62 86.78M718.1 83.94L722.9 88.74M718.1 88.74L722.9 83.94M718.1 86.34L722.9 86.34M720.5 83.94L720.5 88.74M729.98 85.61L734.77 90.41M729.98 90.41L734.77 85.61M729.98 88.01L734.77 88.01M732.38 85.61L732.38 90.41M741.85 86.17L746.65 90.97M741.85 90.97L746.65 86.17M741.85 88.57L746.65 88.57M744.25 86.17L744.25 90.97M753.73 86.17L758.52 90.97M753.73 90.97L758.52 86.17M753.73 88.57L758.52 88.57M756.12 86.17L756.12 90.97M765.6 86.17L770.4 90.97M765.6 90.97L770.4 86.17M765.6 88.57L770.4 88.57M768 86.17L768 90.97M777.48 86.17L782.27 90.97M777.48 90.97L782.27 86.17M777.48 88.57L782.27 88.57M779.88 86.17L779.88 90.97M789.35 86.17L794.15 90.97M789.35 90.97L794.15 86.17M789.35 88.57L794.15 88.57M791.75 86.17L791.75 90.97M801.23 86.17L806.02 90.97M801.23 90.97L806.02 86.17M801.23 88.57L806.02 88.57M803.62 86.17L803.62 90.97M813.1 86.17L817.9 90.97M813.1 90.97L817.9 86.17M813.1 88.57L817.9 88.57M815.5 86.17L815.5 90.97M824.98 79.75L829.77 84.55M824.98 84.55L829.77 79.75M824.98 82.15L829.77 82.15M827.38 79.75L827.38 84.55M836.85 71.92L841.65 76.72M836.85 76.72L841.65 71.92M836.85 74.32L841.65 74.32M839.25 71.92L839.25 76.72M848.73 62.99L853.52 67.79M848.73 67.79L853.52 62.99M848.73 65.39L853.52 65.39M851.12 62.99L851.12 67.79M860.6 55.44L865.4 60.24M860.6 60.24L865.4 55.44M860.6 57.84L865.4 57.84M863 55.44L863 60.24M872.48 48.74L877.27 53.54M872.48 53.54L877.27 48.74M872.48 51.14L877.27 51.14M874.88 48.74L874.88 53.54M884.35 42.87L889.15 47.67M884.35 47.67L889.15 42.87M884.35 45.27L889.15 45.27M886.75 42.87L886.75 47.67M896.23 37.85L901.02 42.65M896.23 42.65L901.02 37.85M896.23 40.25L901.02 40.25M898.62 37.85L898.62 42.65M908.1 35.33L912.9 40.13M908.1 40.13L912.9 35.33M908.1 37.73L912.9 37.73M910.5 35.33L910.5 40.13M919.98 37.85L924.77 42.65M919.98 42.65L924.77 37.85M919.98 40.25L924.77 40.25M922.38 37.85L922.38 42.65M931.85 42.32L936.65 47.12M931.85 47.12L936.65 42.32M931.85 44.72L936.65 44.72M934.25 42.32L934.25 47.12M943.73 47.62L948.52 52.42M943.73 52.42L948.52 47.62M943.73 50.02L948.52 50.02M946.12 47.62L946.12 52.42M955.6 53.49L960.4 58.29M955.6 58.29L960.4 53.49M955.6 55.89L960.4 55.89M958 53.49L958 58.29" stroke="#00ffff" stroke-width="1.1"/>
<path d="M673 55.89 L684.88 60.08 L696.75 63.15 L708.62 64.27 L720.5 66.36 L732.38 67.9 L744.25 68.74 L756.12 71.25 L768 73.35 L779.88 75.44 L791.75 76 L803.62 75.44 L815.5 74.32 L827.38 71.53 L839.25 70.13 L851.12 67.34 L863 61.75 L874.88 58.96 L886.75 57.56 L898.62 56.73 L910.5 57.84 L922.38 60.36 L934.25 63.71 L946.12 66.78 L958 71.25" stroke="#00ff00" stroke-width="1.25"/>
<path d="M670.6 53.49L675.4 58.29M670.6 58.29L675.4 53.49M670.6 55.89L675.4 55.89M673 53.49L673 58.29M682.48 57.68L687.27 62.48M682.48 62.48L687.27 57.68M682.48 60.08L687.27 60.08M684.88 57.68L684.88 62.48M694.35 60.75L699.15 65.55M694.35 65.55L699.15 60.75M694.35 63.15L699.15 63.15M696.75 60.75L696.75 65.55M706.23 61.87L711.02 66.67M706.23 66.67L711.02 61.87M706.23 64.27L711.02 64.27M708.62 61.87L708.62 66.67M718.1 63.96L722.9 68.76M718.1 68.76L722.9 63.96M718.1 66.36L722.9 66.36M720.5 63.96L720.5 68.76M729.98 65.5L734.77 70.3M729.98 70.3L734.77 65.5M729.98 67.9L734.77 67.9M732.38 65.5L732.38 70.3M741.85 66.34L746.65 71.14M741.85 71.14L746.65 66.34M741.85 68.74L746.65 68.74M744.25 66.34L744.25 71.14M753.73 68.85L758.52 73.65M753.73 73.65L758.52 68.85M753.73 71.25L758.52 71.25M756.12 68.85L756.12 73.65M765.6 70.95L770.4 75.75M765.6 75.75L770.4 70.95M765.6 73.35L770.4 73.35M768 70.95L768 75.75M777.48 73.04L782.27 77.84M777.48 77.84L782.27 73.04M777.48 75.44L782.27 75.44M779.88 73.04L779.88 77.84M789.35 73.6L794.15 78.4M789.35 78.4L794.15 73.6M789.35 76L794.15 76M791.75 73.6L791.75 78.4M801.23 73.04L806.02 77.84M801.23 77.84L806.02 73.04M801.23 75.44L806.02 75.44M803.62 73.04L803.62 77.84M813.1 71.92L817.9 76.72M813.1 76.72L817.9 71.92M813.1 74.32L817.9 74.32M815.5 71.92L815.5 76.72M824.98 69.13L829.77 73.93M824.98 73.93L829.77 69.13M824.98 71.53L829.77 71.53M827.38 69.13L827.38 73.93M836.85 67.73L841.65 72.53M836.85 72.53L841.65 67.73M836.85 70.13L841.65 70.13M839.25 67.73L839.25 72.53M848.73 64.94L853.52 69.74M848.73 69.74L853.52 64.94M848.73 67.34L853.52 67.34M851.12 64.94L851.12 69.74M860.6 59.35L865.4 64.15M860.6 64.15L865.4 59.35M860.6 61.75L865.4 61.75M863 59.35L863 64.15M872.48 56.56L877.27 61.36M872.48 61.36L877.27 56.56M872.48 58.96L877.27 58.96M874.88 56.56L874.88 61.36M884.35 55.16L889.15 59.96M884.35 59.96L889.15 55.16M884.35 57.56L889.15 57.56M886.75 55.16L886.75 59.96M896.23 54.33L901.02 59.13M896.23 59.13L901.02 54.33M896.23 56.73L901.02 56.73M898.62 54.33L898.62 59.13M908.1 55.44L912.9 60.24M908.1 60.24L912.9 55.44M908.1 57.84L912.9 57.84M910.5 55.44L910.5 60.24M919.98 57.96L924.77 62.76M919.98 62.76L924.77 57.96M919.98 60.36L924.77 60.36M922.38 57.96L922.38 62.76M931.85 61.31L936.65 66.11M931.85 66.11L936.65 61.31M931.85 63.71L936.65 63.71M934.25 61.31L934.25 66.11M943.73 64.38L948.52 69.18M943.73 69.18L948.52 64.38M943.73 66.78L948.52 66.78M946.12 64.38L946.12 69.18M955.6 68.85L960.4 73.65M955.6 73.65L960.4 68.85M955.6 71.25L960.4 71.25M958 68.85L958 73.65" stroke="#00ff00" stroke-width="1.1"/>
<path d="M673 71.81 L684.88 76.56 L696.75 81.03 L708.62 83.82 L720.5 86.89 L732.38 88.01 L744.25 88.57 L756.12 88.57 L768 87.45 L779.88 84.94 L791.75 82.7 L803.62 79.63 L815.5 75.16 L827.38 71.25 L839.25 69.02 L851.12 67.34 L863 65.39 L874.88 62.87 L886.75 62.03 L898.62 63.15 L910.5 65.39 L922.38 68.18 L934.25 69.58 L946.12 71.67 L958 74.32" stroke="#0000ff" stroke-width="1.25"/>
<path d="M670.6 69.41L675.4 74.21M670.6 74.21L675.4 69.41M670.6 71.81L675.4 71.81M673 69.41L673 74.21M682.48 74.16L687.27 78.96M682.48 78.96L687.27 74.16M682.48 76.56L687.27 76.56M684.88 74.16L684.88 78.96M694.35 78.63L699.15 83.43M694.35 83.43L699.15 78.63M694.35 81.03L699.15 81.03M696.75 78.63L696.75 83.43M706.23 81.42L711.02 86.22M706.23 86.22L711.02 81.42M706.23 83.82L711.02 83.82M708.62 81.42L708.62 86.22M718.1 84.49L722.9 89.29M718.1 89.29L722.9 84.49M718.1 86.89L722.9 86.89M720.5 84.49L720.5 89.29M729.98 85.61L734.77 90.41M729.98 90.41L734.77 85.61M729.98 88.01L734.77 88.01M732.38 85.61L732.38 90.41M741.85 86.17L746.65 90.97M741.85 90.97L746.65 86.17M741.85 88.57L746.65 88.57M744.25 86.17L744.25 90.97M753.73 86.17L758.52 90.97M753.73 90.97L758.52 86.17M753.73 88.57L758.52 88.57M756.12 86.17L756.12 90.97M765.6 85.05L770.4 89.85M765.6 89.85L770.4 85.05M765.6 87.45L770.4 87.45M768 85.05L768 89.85M777.48 82.54L782.27 87.34M777.48 87.34L782.27 82.54M777.48 84.94L782.27 84.94M779.88 82.54L779.88 87.34M789.35 80.3L794.15 85.1M789.35 85.1L794.15 80.3M789.35 82.7L794.15 82.7M791.75 80.3L791.75 85.1M801.23 77.23L806.02 82.03M801.23 82.03L806.02 77.23M801.23 79.63L806.02 79.63M803.62 77.23L803.62 82.03M813.1 72.76L817.9 77.56M813.1 77.56L817.9 72.76M813.1 75.16L817.9 75.16M815.5 72.76L815.5 77.56M824.98 68.85L829.77 73.65M824.98 73.65L829.77 68.85M824.98 71.25L829.77 71.25M827.38 68.85L827.38 73.65M836.85 66.62L841.65 71.42M836.85 71.42L841.65 66.62M836.85 69.02L841.65 69.02M839.25 66.62L839.25 71.42M848.73 64.94L853.52 69.74M848.73 69.74L853.52 64.94M848.73 67.34L853.52 67.34M851.12 64.94L851.12 69.74M860.6 62.99L865.4 67.79M860.6 67.79L865.4 62.99M860.6 65.39L865.4 65.39M863 62.99L863 67.79M872.48 60.47L877.27 65.27M872.48 65.27L877.27 60.47M872.48 62.87L877.27 62.87M874.88 60.47L874.88 65.27M884.35 59.63L889.15 64.43M884.35 64.43L889.15 59.63M884.35 62.03L889.15 62.03M886.75 59.63L886.75 64.43M896.23 60.75L901.02 65.55M896.23 65.55L901.02 60.75M896.23 63.15L901.02 63.15M898.62 60.75L898.62 65.55M908.1 62.99L912.9 67.79M908.1 67.79L912.9 62.99M908.1 65.39L912.9 65.39M910.5 62.99L910.5 67.79M919.98 65.78L924.77 70.58M919.98 70.58L924.77 65.78M919.98 68.18L924.77 68.18M922.38 65.78L922.38 70.58M931.85 67.18L936.65 71.98M931.85 71.98L936.65 67.18M931.85 69.58L936.65 69.58M934.25 67.18L934.25 71.98M943.73 69.27L948.52 74.07M943.73 74.07L948.52 69.27M943.73 71.67L948.52 71.67M946.12 69.27L946.12 74.07M955.6 71.92L960.4 76.72M955.6 76.72L960.4 71.92M955.6 74.32L960.4 74.32M958 71.92L958 76.72" stroke="#0000ff" stroke-width="1.1"/>
<path d="M673 74.32 L684.88 78.24 L696.75 81.03 L708.62 84.94 L720.5 88.57 L732.38 92.76 L744.25 95 L756.12 95.83 L768 96.95 L779.88 96.95 L791.75 97.51 L803.62 97.51 L815.5 95 L827.38 88.57 L839.25 81.03 L851.12 75.16 L863 69.02 L874.88 63.15 L886.75 57.56 L898.62 53.37 L910.5 51.14 L922.38 52.26 L934.25 58.68 L946.12 61.75 L958 65.39" stroke="#ff0000" stroke-width="1.25"/>
<path d="M670.6 71.92L675.4 76.72M670.6 76.72L675.4 71.92M670.6 74.32L675.4 74.32M673 71.92L673 76.72M682.48 75.84L687.27 80.64M682.48 80.64L687.27 75.84M682.48 78.24L687.27 78.24M684.88 75.84L684.88 80.64M694.35 78.63L699.15 83.43M694.35 83.43L699.15 78.63M694.35 81.03L699.15 81.03M696.75 78.63L696.75 83.43M706.23 82.54L711.02 87.34M706.23 87.34L711.02 82.54M706.23 84.94L711.02 84.94M708.62 82.54L708.62 87.34M718.1 86.17L722.9 90.97M718.1 90.97L722.9 86.17M718.1 88.57L722.9 88.57M720.5 86.17L720.5 90.97M729.98 90.36L734.77 95.16M729.98 95.16L734.77 90.36M729.98 92.76L734.77 92.76M732.38 90.36L732.38 95.16M741.85 92.6L746.65 97.4M741.85 97.4L746.65 92.6M741.85 95L746.65 95M744.25 92.6L744.25 97.4M753.73 93.43L758.52 98.23M753.73 98.23L758.52 93.43M753.73 95.83L758.52 95.83M756.12 93.43L756.12 98.23M765.6 94.55L770.4 99.35M765.6 99.35L770.4 94.55M765.6 96.95L770.4 96.95M768 94.55L768 99.35M777.48 94.55L782.27 99.35M777.48 99.35L782.27 94.55M777.48 96.95L782.27 96.95M779.88 94.55L779.88 99.35M789.35 95.11L794.15 99.91M789.35 99.91L794.15 95.11M789.35 97.51L794.15 97.51M791.75 95.11L791.75 99.91M801.23 95.11L806.02 99.91M801.23 99.91L806.02 95.11M801.23 97.51L806.02 97.51M803.62 95.11L803.62 99.91M813.1 92.6L817.9 97.4M813.1 97.4L817.9 92.6M813.1 95L817.9 95M815.5 92.6L815.5 97.4M824.98 86.17L829.77 90.97M824.98 90.97L829.77 86.17M824.98 88.57L829.77 88.57M827.38 86.17L827.38 90.97M836.85 78.63L841.65 83.43M836.85 83.43L841.65 78.63M836.85 81.03L841.65 81.03M839.25 78.63L839.25 83.43M848.73 72.76L853.52 77.56M848.73 77.56L853.52 72.76M848.73 75.16L853.52 75.16M851.12 72.76L851.12 77.56M860.6 66.62L865.4 71.42M860.6 71.42L865.4 66.62M860.6 69.02L865.4 69.02M863 66.62L863 71.42M872.48 60.75L877.27 65.55M872.48 65.55L877.27 60.75M872.48 63.15L877.27 63.15M874.88 60.75L874.88 65.55M884.35 55.16L889.15 59.96M884.35 59.96L889.15 55.16M884.35 57.56L889.15 57.56M886.75 55.16L886.75 59.96M896.23 50.97L901.02 55.77M896.23 55.77L901.02 50.97M896.23 53.37L901.02 53.37M898.62 50.97L898.62 55.77M908.1 48.74L912.9 53.54M908.1 53.54L912.9 48.74M908.1 51.14L912.9 51.14M910.5 48.74L910.5 53.54M919.98 49.86L924.77 54.66M919.98 54.66L924.77 49.86M919.98 52.26L924.77 52.26M922.38 49.86L922.38 54.66M931.85 56.28L936.65 61.08M931.85 61.08L936.65 56.28M931.85 58.68L936.65 58.68M934.25 56.28L934.25 61.08M943.73 59.35L948.52 64.15M943.73 64.15L948.52 59.35M943.73 61.75L948.52 61.75M946.12 59.35L946.12 64.15M955.6 62.99L960.4 67.79M955.6 67.79L960.4 62.99M955.6 65.39L960.4 65.39M958 62.99L958 67.79" stroke="#ff0000" stroke-width="1.1"/>
</g>
<rect x="673" y="26" width="285" height="83.8" fill="none" stroke="#000" stroke-width="2.0"/>
<path d="M720.5 27V108.8M768.5 27V108.8M815.5 27V108.8M863.5 27V108.8M910.5 27V108.8M674 95.83H957M674 81.87H957M674 67.9H957M674 53.93H957M674 39.97H957" stroke="#000" stroke-width="1.2" stroke-dasharray="1.2 1.8" fill="none"/>
<path d="M673.5 109.8v-6M673.5 26v6M696.5 109.8v-4M696.5 26v4M720.5 109.8v-6M720.5 26v6M744.5 109.8v-4M744.5 26v4M768.5 109.8v-6M768.5 26v6M791.5 109.8v-4M791.5 26v4M815.5 109.8v-6M815.5 26v6M839.5 109.8v-4M839.5 26v4M863.5 109.8v-6M863.5 26v6M886.5 109.8v-4M886.5 26v4M910.5 109.8v-6M910.5 26v6M934.5 109.8v-4M934.5 26v4M958.5 109.8v-6M958.5 26v6M673 109.8h6M958 109.8h-6M673 102.82h4M958 102.82h-4M673 95.83h6M958 95.83h-6M673 88.85h4M958 88.85h-4M673 81.87h6M958 81.87h-6M673 74.88h4M958 74.88h-4M673 67.9h6M958 67.9h-6M673 60.92h4M958 60.92h-4M673 53.93h6M958 53.93h-6M673 46.95h4M958 46.95h-4M673 39.97h6M958 39.97h-6M673 32.98h4M958 32.98h-4M673 26h6M958 26h-6" stroke="#000" stroke-width="1" fill="none"/>
<g font-family="Liberation Sans" font-weight="bold" font-size="9" fill="#000">
<text x="673" y="121.1" text-anchor="middle">0</text>
<text x="720.5" y="121.1" text-anchor="middle">4</text>
<text x="768" y="121.1" text-anchor="middle">8</text>
<text x="815.5" y="121.1" text-anchor="middle">12</text>
<text x="863" y="121.1" text-anchor="middle">16</text>
<text x="910.5" y="121.1" text-anchor="middle">20</text>
<text x="958" y="121.1" text-anchor="middle">24</text>
<text x="668.5" y="113" text-anchor="end">5</text>
<text x="668.5" y="99.03" text-anchor="end">10</text>
<text x="668.5" y="85.07" text-anchor="end">15</text>
<text x="668.5" y="71.1" text-anchor="end">20</text>
<text x="668.5" y="57.13" text-anchor="end">25</text>
<text x="668.5" y="43.17" text-anchor="end">30</text>
<text x="668.5" y="29.2" text-anchor="end">35</text>
</g>
<text x="920.2" y="22.6" font-family="Liberation Serif" font-weight="bold" font-size="9.2" textLength="38.1" lengthAdjust="spacingAndGlyphs" fill="#000">AQI (AQI)</text>
<clipPath id="c21"><rect x="673" y="134" width="285" height="83.8"/></clipPath>
<g fill="none" stroke-linejoin="round" stroke-linecap="round" clip-path="url(#c21)">
<path d="M673 205.83 L684.88 205.83 L696.75 193.86 L708.62 181.89 L720.5 217.8 L732.38 217.8 L744.25 217.8 L756.12 205.83 L768 217.8 L779.88 181.89 L791.75 169.91 L803.62 181.89 L815.5 157.94 L827.38 157.94 L839.25 134 L851.12 145.97 L863 134 L874.88 145.97 L886.75 157.94 L910.5 193.86 L922.38 181.89 L934.25 193.86 L946.12 169.91 L958 181.89" stroke="#00ffff" stroke-width="1.25"/>
<path d="M670.6 203.43L675.4 208.23M670.6 208.23L675.4 203.43M670.6 205.83L675.4 205.83M673 203.43L673 208.23M682.48 203.43L687.27 208.23M682.48 208.23L687.27 203.43M682.48 205.83L687.27 205.83M684.88 203.43L684.88 208.23M694.35 191.46L699.15 196.26M694.35 196.26L699.15 191.46M694.35 193.86L699.15 193.86M696.75 191.46L696.75 196.26M706.23 179.49L711.02 184.29M706.23 184.29L711.02 179.49M706.23 181.89L711.02 181.89M708.62 179.49L708.62 184.29M718.1 215.4L722.9 220.2M718.1 220.2L722.9 215.4M718.1 217.8L722.9 217.8M720.5 215.4L720.5 220.2M729.98 215.4L734.77 220.2M729.98 220.2L734.77 215.4M729.98 217.8L734.77 217.8M732.38 215.4L732.38 220.2M741.85 215.4L746.65 220.2M741.85 220.2L746.65 215.4M741.85 217.8L746.65 217.8M744.25 215.4L744.25 220.2M753.73 203.43L758.52 208.23M753.73 208.23L758.52 203.43M753.73 205.83L758.52 205.83M756.12 203.43L756.12 208.23M765.6 215.4L770.4 220.2M765.6 220.2L770.4 215.4M765.6 217.8L770.4 217.8M768 215.4L768 220.2M777.48 179.49L782.27 184.29M777.48 184.29L782.27 179.49M777.48 181.89L782.27 181.89M779.88 179.49L779.88 184.29M789.35 167.51L794.15 172.31M789.35 172.31L794.15 167.51M789.35 169.91L794.15 169.91M791.75 167.51L791.75 172.31M801.23 179.49L806.02 184.29M801.23 184.29L806.02 179.49M801.23 181.89L806.02 181.89M803.62 179.49L803.62 184.29M813.1 155.54L817.9 160.34M813.1 160.34L817.9 155.54M813.1 157.94L817.9 157.94M815.5 155.54L815.5 160.34M824.98 155.54L829.77 160.34M824.98 160.34L829.77 155.54M824.98 157.94L829.77 157.94M827.38 155.54L827.38 160.34M836.85 131.6L841.65 136.4M836.85 136.4L841.65 131.6M836.85 134L841.65 134M839.25 131.6L839.25 136.4M848.73 143.57L853.52 148.37M848.73 148.37L853.52 143.57M848.73 145.97L853.52 145.97M851.12 143.57L851.12 148.37M860.6 131.6L865.4 136.4M860.6 136.4L865.4 131.6M860.6 134L865.4 134M863 131.6L863 136.4M872.48 143.57L877.27 148.37M872.48 148.37L877.27 143.57M872.48 145.97L877.27 145.97M874.88 143.57L874.88 148.37M884.35 155.54L889.15 160.34M884.35 160.34L889.15 155.54M884.35 157.94L889.15 157.94M886.75 155.54L886.75 160.34M908.1 191.46L912.9 196.26M908.1 196.26L912.9 191.46M908.1 193.86L912.9 193.86M910.5 191.46L910.5 196.26M919.98 179.49L924.77 184.29M919.98 184.29L924.77 179.49M919.98 181.89L924.77 181.89M922.38 179.49L922.38 184.29M931.85 191.46L936.65 196.26M931.85 196.26L936.65 191.46M931.85 193.86L936.65 193.86M934.25 191.46L934.25 196.26M943.73 167.51L948.52 172.31M943.73 172.31L948.52 167.51M943.73 169.91L948.52 169.91M946.12 167.51L946.12 172.31M955.6 179.49L960.4 184.29M955.6 184.29L960.4 179.49M955.6 181.89L960.4 181.89M958 179.49L958 184.29" stroke="#00ffff" stroke-width="1.1"/>
<path d="M673 181.89 L684.88 181.89 L696.75 217.8 L708.62 205.83 L720.5 169.91 L732.38 181.89 L744.25 169.91 L756.12 181.89 L768 181.89 L779.88 169.91 L791.75 169.91 L803.62 181.89 L815.5 193.86 L827.38 181.89 L839.25 181.89 L851.12 181.89 L863 169.91 L874.88 145.97 L886.75 193.86 L898.62 193.86 L910.5 157.94 L922.38 205.83 L934.25 205.83 L946.12 193.86 L958 205.83" stroke="#00ff00" stroke-width="1.25"/>
<path d="M670.6 179.49L675.4 184.29M670.6 184.29L675.4 179.49M670.6 181.89L675.4 181.89M673 179.49L673 184.29M682.48 179.49L687.27 184.29M682.48 184.29L687.27 179.49M682.48 181.89L687.27 181.89M684.88 179.49L684.88 184.29M694.35 215.4L699.15 220.2M694.35 220.2L699.15 215.4M694.35 217.8L699.15 217.8M696.75 215.4L696.75 220.2M706.23 203.43L711.02 208.23M706.23 208.23L711.02 203.43M706.23 205.83L711.02 205.83M708.62 203.43L708.62 208.23M718.1 167.51L722.9 172.31M718.1 172.31L722.9 167.51M718.1 169.91L722.9 169.91M720.5 167.51L720.5 172.31M729.98 179.49L734.77 184.29M729.98 184.29L734.77 179.49M729.98 181.89L734.77 181.89M732.38 179.49L732.38 184.29M741.85 167.51L746.65 172.31M741.85 172.31L746.65 167.51M741.85 169.91L746.65 169.91M744.25 167.51L744.25 172.31M753.73 179.49L758.52 184.29M753.73 184.29L758.52 179.49M753.73 181.89L758.52 181.89M756.12 179.49L756.12 184.29M765.6 179.49L770.4 184.29M765.6 184.29L770.4 179.49M765.6 181.89L770.4 181.89M768 179.49L768 184.29M777.48 167.51L782.27 172.31M777.48 172.31L782.27 167.51M777.48 169.91L782.27 169.91M779.88 167.51L779.88 172.31M789.35 167.51L794.15 172.31M789.35 172.31L794.15 167.51M789.35 169.91L794.15 169.91M791.75 167.51L791.75 172.31M801.23 179.49L806.02 184.29M801.23 184.29L806.02 179.49M801.23 181.89L806.02 181.89M803.62 179.49L803.62 184.29M813.1 191.46L817.9 196.26M813.1 196.26L817.9 191.46M813.1 193.86L817.9 193.86M815.5 191.46L815.5 196.26M824.98 179.49L829.77 184.29M824.98 184.29L829.77 179.49M824.98 181.89L829.77 181.89M827.38 179.49L827.38 184.29M836.85 179.49L841.65 184.29M836.85 184.29L841.65 179.49M836.85 181.89L841.65 181.89M839.25 179.49L839.25 184.29M848.73 179.49L853.52 184.29M848.73 184.29L853.52 179.49M848.73 181.89L853.52 181.89M851.12 179.49L851.12 184.29M860.6 167.51L865.4 172.31M860.6 172.31L865.4 167.51M860.6 169.91L865.4 169.91M863 167.51L863 172.31M872.48 143.57L877.27 148.37M872.48 148.37L877.27 143.57M872.48 145.97L877.27 145.97M874.88 143.57L874.88 148.37M884.35 191.46L889.15 196.26M884.35 196.26L889.15 191.46M884.35 193.86L889.15 193.86M886.75 191.46L886.75 196.26M896.23 191.46L901.02 196.26M896.23 196.26L901.02 191.46M896.23 193.86L901.02 193.86M898.62 191.46L898.62 196.26M908.1 155.54L912.9 160.34M908.1 160.34L912.9 155.54M908.1 157.94L912.9 157.94M910.5 155.54L910.5 160.34M919.98 203.43L924.77 208.23M919.98 208.23L924.77 203.43M919.98 205.83L924.77 205.83M922.38 203.43L922.38 208.23M931.85 203.43L936.65 208.23M931.85 208.23L936.65 203.43M931.85 205.83L936.65 205.83M934.25 203.43L934.25 208.23M943.73 191.46L948.52 196.26M943.73 196.26L948.52 191.46M943.73 193.86L948.52 193.86M946.12 191.46L946.12 196.26M955.6 203.43L960.4 208.23M955.6 208.23L960.4 203.43M955.6 205.83L960.4 205.83M958 203.43L958 208.23" stroke="#00ff00" stroke-width="1.1"/>
<path d="M673 205.83 L684.88 205.83 L696.75 181.89 L708.62 205.83 L720.5 205.83 L732.38 217.8 L744.25 193.86 L756.12 205.83 L768 193.86 L779.88 205.83 L791.75 193.86 L803.62 181.89 L815.5 217.8 L827.38 193.86 L839.25 157.94 L851.12 193.86 L863 181.89 L874.88 169.91 L886.75 217.8 L898.62 181.89 L910.5 181.89 L922.38 205.83 L934.25 193.86 L946.12 217.8 L958 193.86" stroke="#0000ff" stroke-width="1.25"/>
<path d="M670.6 203.43L675.4 208.23M670.6 208.23L675.4 203.43M670.6 205.83L675.4 205.83M673 203.43L673 208.23M682.48 203.43L687.27 208.23M682.48 208.23L687.27 203.43M682.48 205.83L687.27 205.83M684.88 203.43L684.88 208.23M694.35 179.49L699.15 184.29M694.35 184.29L699.15 179.49M694.35 181.89L699.15 181.89M696.75 179.49L696.75 184.29M706.23 203.43L711.02 208.23M706.23 208.23L711.02 203.43M706.23 205.83L711.02 205.83M708.62 203.43L708.62 208.23M718.1 203.43L722.9 208.23M718.1 208.23L722.9 203.43M718.1 205.83L722.9 205.83M720.5 203.43L720.5 208.23M729.98 215.4L734.77 220.2M729.98 220.2L734.77 215.4M729.98 217.8L734.77 217.8M732.38 215.4L732.38 220.2M741.85 191.46L746.65 196.26M741.85 196.26L746.65 191.46M741.85 193.86L746.65 193.86M744.25 191.46L744.25 196.26M753.73 203.43L758.52 208.23M753.73 208.23L758.52 203.43M753.73 205.83L758.52 205.83M756.12 203.43L756.12 208.23M765.6 191.46L770.4 196.26M765.6 196.26L770.4 191.46M765.6 193.86L770.4 193.86M768 191.46L768 196.26M777.48 203.43L782.27 208.23M777.48 208.23L782.27 203.43M777.48 205.83L782.27 205.83M779.88 203.43L779.88 208.23M789.35 191.46L794.15 196.26M789.35 196.26L794.15 191.46M789.35 193.86L794.15 193.86M791.75 191.46L791.75 196.26M801.23 179.49L806.02 184.29M801.23 184.29L806.02 179.49M801.23 181.89L806.02 181.89M803.62 179.49L803.62 184.29M813.1 215.4L817.9 220.2M813.1 220.2L817.9 215.4M813.1 217.8L817.9 217.8M815.5 215.4L815.5 220.2M824.98 191.46L829.77 196.26M824.98 196.26L829.77 191.46M824.98 193.86L829.77 193.86M827.38 191.46L827.38 196.26M836.85 155.54L841.65 160.34M836.85 160.34L841.65 155.54M836.85 157.94L841.65 157.94M839.25 155.54L839.25 160.34M848.73 191.46L853.52 196.26M848.73 196.26L853.52 191.46M848.73 193.86L853.52 193.86M851.12 191.46L851.12 196.26M860.6 179.49L865.4 184.29M860.6 184.29L865.4 179.49M860.6 181.89L865.4 181.89M863 179.49L863 184.29M872.48 167.51L877.27 172.31M872.48 172.31L877.27 167.51M872.48 169.91L877.27 169.91M874.88 167.51L874.88 172.31M884.35 215.4L889.15 220.2M884.35 220.2L889.15 215.4M884.35 217.8L889.15 217.8M886.75 215.4L886.75 220.2M896.23 179.49L901.02 184.29M896.23 184.29L901.02 179.49M896.23 181.89L901.02 181.89M898.62 179.49L898.62 184.29M908.1 179.49L912.9 184.29M908.1 184.29L912.9 179.49M908.1 181.89L912.9 181.89M910.5 179.49L910.5 184.29M919.98 203.43L924.77 208.23M919.98 208.23L924.77 203.43M919.98 205.83L924.77 205.83M922.38 203.43L922.38 208.23M931.85 191.46L936.65 196.26M931.85 196.26L936.65 191.46M931.85 193.86L936.65 193.86M934.25 191.46L934.25 196.26M943.73 215.4L948.52 220.2M943.73 220.2L948.52 215.4M943.73 217.8L948.52 217.8M946.12 215.4L946.12 220.2M955.6 191.46L960.4 196.26M955.6 196.26L960.4 191.46M955.6 193.86L960.4 193.86M958 191.46L958 196.26" stroke="#0000ff" stroke-width="1.1"/>
<path d="M673 193.86 L684.88 205.83 L696.75 169.91 L708.62 193.86 L720.5 217.8 L732.38 193.86 L744.25 217.8 L756.12 217.8 L768 217.8 L779.88 169.91 L791.75 193.86 L803.62 181.89 L815.5 181.89 L827.38 205.83 L839.25 205.83 L851.12 181.89 L863 205.83 L874.88 193.86 L886.75 193.86 L898.62 169.91 L910.5 181.89 L922.38 217.8 L934.25 193.86 L946.12 193.86 L958 205.83" stroke="#ff0000" stroke-width="1.25"/>
<path d="M670.6 191.46L675.4 196.26M670.6 196.26L675.4 191.46M670.6 193.86L675.4 193.86M673 191.46L673 196.26M682.48 203.43L687.27 208.23M682.48 208.23L687.27 203.43M682.48 205.83L687.27 205.83M684.88 203.43L684.88 208.23M694.35 167.51L699.15 172.31M694.35 172.31L699.15 167.51M694.35 169.91L699.15 169.91M696.75 167.51L696.75 172.31M706.23 191.46L711.02 196.26M706.23 196.26L711.02 191.46M706.23 193.86L711.02 193.86M708.62 191.46L708.62 196.26M718.1 215.4L722.9 220.2M718.1 220.2L722.9 215.4M718.1 217.8L722.9 217.8M720.5 215.4L720.5 220.2M729.98 191.46L734.77 196.26M729.98 196.26L734.77 191.46M729.98 193.86L734.77 193.86M732.38 191.46L732.38 196.26M741.85 215.4L746.65 220.2M741.85 220.2L746.65 215.4M741.85 217.8L746.65 217.8M744.25 215.4L744.25 220.2M753.73 215.4L758.52 220.2M753.73 220.2L758.52 215.4M753.73 217.8L758.52 217.8M756.12 215.4L756.12 220.2M765.6 215.4L770.4 220.2M765.6 220.2L770.4 215.4M765.6 217.8L770.4 217.8M768 215.4L768 220.2M777.48 167.51L782.27 172.31M777.48 172.31L782.27 167.51M777.48 169.91L782.27 169.91M779.88 167.51L779.88 172.31M789.35 191.46L794.15 196.26M789.35 196.26L794.15 191.46M789.35 193.86L794.15 193.86M791.75 191.46L791.75 196.26M801.23 179.49L806.02 184.29M801.23 184.29L806.02 179.49M801.23 181.89L806.02 181.89M803.62 179.49L803.62 184.29M813.1 179.49L817.9 184.29M813.1 184.29L817.9 179.49M813.1 181.89L817.9 181.89M815.5 179.49L815.5 184.29M824.98 203.43L829.77 208.23M824.98 208.23L829.77 203.43M824.98 205.83L829.77 205.83M827.38 203.43L827.38 208.23M836.85 203.43L841.65 208.23M836.85 208.23L841.65 203.43M836.85 205.83L841.65 205.83M839.25 203.43L839.25 208.23M848.73 179.49L853.52 184.29M848.73 184.29L853.52 179.49M848.73 181.89L853.52 181.89M851.12 179.49L851.12 184.29M860.6 203.43L865.4 208.23M860.6 208.23L865.4 203.43M860.6 205.83L865.4 205.83M863 203.43L863 208.23M872.48 191.46L877.27 196.26M872.48 196.26L877.27 191.46M872.48 193.86L877.27 193.86M874.88 191.46L874.88 196.26M884.35 191.46L889.15 196.26M884.35 196.26L889.15 191.46M884.35 193.86L889.15 193.86M886.75 191.46L886.75 196.26M896.23 167.51L901.02 172.31M896.23 172.31L901.02 167.51M896.23 169.91L901.02 169.91M898.62 167.51L898.62 172.31M908.1 179.49L912.9 184.29M908.1 184.29L912.9 179.49M908.1 181.89L912.9 181.89M910.5 179.49L910.5 184.29M919.98 215.4L924.77 220.2M919.98 220.2L924.77 215.4M919.98 217.8L924.77 217.8M922.38 215.4L922.38 220.2M931.85 191.46L936.65 196.26M931.85 196.26L936.65 191.46M931.85 193.86L936.65 193.86M934.25 191.46L934.25 196.26M943.73 191.46L948.52 196.26M943.73 196.26L948.52 191.46M943.73 193.86L948.52 193.86M946.12 191.46L946.12 196.26M955.6 203.43L960.4 208.23M955.6 208.23L960.4 203.43M955.6 205.83L960.4 205.83M958 203.43L958 208.23" stroke="#ff0000" stroke-width="1.1"/>
</g>
<rect x="673" y="134" width="285" height="83.8" fill="none" stroke="#000" stroke-width="2.0"/>
<path d="M720.5 135V216.8M768.5 135V216.8M815.5 135V216.8M863.5 135V216.8M910.5 135V216.8M674 205.83H957M674 193.86H957M674 181.89H957M674 169.91H957M674 157.94H957M674 145.97H957" stroke="#000" stroke-width="1.2" stroke-dasharray="1.2 1.8" fill="none"/>
<path d="M673.5 217.8v-6M673.5 134v6M696.5 217.8v-4M696.5 134v4M720.5 217.8v-6M720.5 134v6M744.5 217.8v-4M744.5 134v4M768.5 217.8v-6M768.5 134v6M791.5 217.8v-4M791.5 134v4M815.5 217.8v-6M815.5 134v6M839.5 217.8v-4M839.5 134v4M863.5 217.8v-6M863.5 134v6M886.5 217.8v-4M886.5 134v4M910.5 217.8v-6M910.5 134v6M934.5 217.8v-4M934.5 134v4M958.5 217.8v-6M958.5 134v6M673 217.8h6M958 217.8h-6M673 211.81h4M958 211.81h-4M673 205.83h6M958 205.83h-6M673 199.84h4M958 199.84h-4M673 193.86h6M958 193.86h-6M673 187.87h4M958 187.87h-4M673 181.89h6M958 181.89h-6M673 175.9h4M958 175.9h-4M673 169.91h6M958 169.91h-6M673 163.93h4M958 163.93h-4M673 157.94h6M958 157.94h-6M673 151.96h4M958 151.96h-4M673 145.97h6M958 145.97h-6M673 139.99h4M958 139.99h-4M673 134h6M958 134h-6" stroke="#000" stroke-width="1" fill="none"/>
<g font-family="Liberation Sans" font-weight="bold" font-size="9" fill="#000">
<text x="673" y="229.1" text-anchor="middle">0</text>
<text x="720.5" y="229.1" text-anchor="middle">4</text>
<text x="768" y="229.1" text-anchor="middle">8</text>
<text x="815.5" y="229.1" text-anchor="middle">12</text>
<text x="863" y="229.1" text-anchor="middle">16</text>
<text x="910.5" y="229.1" text-anchor="middle">20</text>
<text x="958" y="229.1" text-anchor="middle">24</text>
<text x="668.5" y="221" text-anchor="end">1</text>
<text x="668.5" y="209.03" text-anchor="end">2</text>
<text x="668.5" y="197.06" text-anchor="end">3</text>
<text x="668.5" y="185.09" text-anchor="end">4</text>
<text x="668.5" y="173.11" text-anchor="end">5</text>
<text x="668.5" y="161.14" text-anchor="end">6</text>
<text x="668.5" y="149.17" text-anchor="end">7</text>
<text x="668.5" y="137.2" text-anchor="end">8</text>
</g>
<text x="902.6" y="130.6" font-family="Liberation Serif" font-weight="bold" font-size="9.2" textLength="55.7" lengthAdjust="spacingAndGlyphs" fill="#000">FSP (ug/m3)</text>
<clipPath id="c22"><rect x="673" y="242.2" width="285" height="83.8"/></clipPath>
<g fill="none" stroke-linejoin="round" stroke-linecap="round" clip-path="url(#c22)">
<path d="M673 263.15 L684.88 263.15 L696.75 263.15 L708.62 272.05 L720.5 272.05 L732.38 272.05 L744.25 276.24 L756.12 267.34 L768 267.34 L779.88 257.91 L791.75 257.91 L803.62 253.2 L815.5 253.2 L827.38 249.01 L839.25 276.24 L851.12 272.05 L863 285.67 L874.88 289.86 L898.62 285.67 L910.5 289.86 L922.38 299.29 L934.25 299.29 L946.12 289.86 L958 299.29" stroke="#00ffff" stroke-width="1.25"/>
<path d="M670.6 260.75L675.4 265.55M670.6 265.55L675.4 260.75M670.6 263.15L675.4 263.15M673 260.75L673 265.55M682.48 260.75L687.27 265.55M682.48 265.55L687.27 260.75M682.48 263.15L687.27 263.15M684.88 260.75L684.88 265.55M694.35 260.75L699.15 265.55M694.35 265.55L699.15 260.75M694.35 263.15L699.15 263.15M696.75 260.75L696.75 265.55M706.23 269.65L711.02 274.45M706.23 274.45L711.02 269.65M706.23 272.05L711.02 272.05M708.62 269.65L708.62 274.45M718.1 269.65L722.9 274.45M718.1 274.45L722.9 269.65M718.1 272.05L722.9 272.05M720.5 269.65L720.5 274.45M729.98 269.65L734.77 274.45M729.98 274.45L734.77 269.65M729.98 272.05L734.77 272.05M732.38 269.65L732.38 274.45M741.85 273.84L746.65 278.64M741.85 278.64L746.65 273.84M741.85 276.24L746.65 276.24M744.25 273.84L744.25 278.64M753.73 264.94L758.52 269.74M753.73 269.74L758.52 264.94M753.73 267.34L758.52 267.34M756.12 264.94L756.12 269.74M765.6 264.94L770.4 269.74M765.6 269.74L770.4 264.94M765.6 267.34L770.4 267.34M768 264.94L768 269.74M777.48 255.51L782.27 260.31M777.48 260.31L782.27 255.51M777.48 257.91L782.27 257.91M779.88 255.51L779.88 260.31M789.35 255.51L794.15 260.31M789.35 260.31L794.15 255.51M789.35 257.91L794.15 257.91M791.75 255.51L791.75 260.31M801.23 250.8L806.02 255.6M801.23 255.6L806.02 250.8M801.23 253.2L806.02 253.2M803.62 250.8L803.62 255.6M813.1 250.8L817.9 255.6M813.1 255.6L817.9 250.8M813.1 253.2L817.9 253.2M815.5 250.8L815.5 255.6M824.98 246.61L829.77 251.41M824.98 251.41L829.77 246.61M824.98 249.01L829.77 249.01M827.38 246.61L827.38 251.41M836.85 273.84L841.65 278.64M836.85 278.64L841.65 273.84M836.85 276.24L841.65 276.24M839.25 273.84L839.25 278.64M848.73 269.65L853.52 274.45M848.73 274.45L853.52 269.65M848.73 272.05L853.52 272.05M851.12 269.65L851.12 274.45M860.6 283.27L865.4 288.07M860.6 288.07L865.4 283.27M860.6 285.67L865.4 285.67M863 283.27L863 288.07M872.48 287.46L877.27 292.26M872.48 292.26L877.27 287.46M872.48 289.86L877.27 289.86M874.88 287.46L874.88 292.26M896.23 283.27L901.02 288.07M896.23 288.07L901.02 283.27M896.23 285.67L901.02 285.67M898.62 283.27L898.62 288.07M908.1 287.46L912.9 292.26M908.1 292.26L912.9 287.46M908.1 289.86L912.9 289.86M910.5 287.46L910.5 292.26M919.98 296.89L924.77 301.69M919.98 301.69L924.77 296.89M919.98 299.29L924.77 299.29M922.38 296.89L922.38 301.69M931.85 296.89L936.65 301.69M931.85 301.69L936.65 296.89M931.85 299.29L936.65 299.29M934.25 296.89L934.25 301.69M943.73 287.46L948.52 292.26M943.73 292.26L948.52 287.46M943.73 289.86L948.52 289.86M946.12 287.46L946.12 292.26M955.6 296.89L960.4 301.69M955.6 301.69L960.4 296.89M955.6 299.29L960.4 299.29M958 296.89L958 301.69" stroke="#00ffff" stroke-width="1.1"/>
<path d="M673 299.29 L696.75 294.57 L708.62 294.57 L720.5 294.57 L732.38 299.29 L744.25 294.57 L756.12 299.29 L768 299.29 L779.88 299.29 L791.75 299.29 L803.62 299.29 L815.5 299.29 L827.38 299.29 L839.25 303.48 L851.12 308.19 L863 303.48 L874.88 303.48 L886.75 303.48 L898.62 299.29 L910.5 308.19 L922.38 308.19 L934.25 308.19 L946.12 303.48 L958 303.48" stroke="#00ff00" stroke-width="1.25"/>
<path d="M670.6 296.89L675.4 301.69M670.6 301.69L675.4 296.89M670.6 299.29L675.4 299.29M673 296.89L673 301.69M694.35 292.18L699.15 296.97M694.35 296.97L699.15 292.18M694.35 294.57L699.15 294.57M696.75 292.18L696.75 296.97M706.23 292.18L711.02 296.97M706.23 296.97L711.02 292.18M706.23 294.57L711.02 294.57M708.62 292.18L708.62 296.97M718.1 292.18L722.9 296.97M718.1 296.97L722.9 292.18M718.1 294.57L722.9 294.57M720.5 292.18L720.5 296.97M729.98 296.89L734.77 301.69M729.98 301.69L734.77 296.89M729.98 299.29L734.77 299.29M732.38 296.89L732.38 301.69M741.85 292.18L746.65 296.97M741.85 296.97L746.65 292.18M741.85 294.57L746.65 294.57M744.25 292.18L744.25 296.97M753.73 296.89L758.52 301.69M753.73 301.69L758.52 296.89M753.73 299.29L758.52 299.29M756.12 296.89L756.12 301.69M765.6 296.89L770.4 301.69M765.6 301.69L770.4 296.89M765.6 299.29L770.4 299.29M768 296.89L768 301.69M777.48 296.89L782.27 301.69M777.48 301.69L782.27 296.89M777.48 299.29L782.27 299.29M779.88 296.89L779.88 301.69M789.35 296.89L794.15 301.69M789.35 301.69L794.15 296.89M789.35 299.29L794.15 299.29M791.75 296.89L791.75 301.69M801.23 296.89L806.02 301.69M801.23 301.69L806.02 296.89M801.23 299.29L806.02 299.29M803.62 296.89L803.62 301.69M813.1 296.89L817.9 301.69M813.1 301.69L817.9 296.89M813.1 299.29L817.9 299.29M815.5 296.89L815.5 301.69M824.98 296.89L829.77 301.69M824.98 301.69L829.77 296.89M824.98 299.29L829.77 299.29M827.38 296.89L827.38 301.69M836.85 301.08L841.65 305.88M836.85 305.88L841.65 301.08M836.85 303.48L841.65 303.48M839.25 301.08L839.25 305.88M848.73 305.79L853.52 310.59M848.73 310.59L853.52 305.79M848.73 308.19L853.52 308.19M851.12 305.79L851.12 310.59M860.6 301.08L865.4 305.88M860.6 305.88L865.4 301.08M860.6 303.48L865.4 303.48M863 301.08L863 305.88M872.48 301.08L877.27 305.88M872.48 305.88L877.27 301.08M872.48 303.48L877.27 303.48M874.88 301.08L874.88 305.88M884.35 301.08L889.15 305.88M884.35 305.88L889.15 301.08M884.35 303.48L889.15 303.48M886.75 301.08L886.75 305.88M896.23 296.89L901.02 301.69M896.23 301.69L901.02 296.89M896.23 299.29L901.02 299.29M898.62 296.89L898.62 301.69M908.1 305.79L912.9 310.59M908.1 310.59L912.9 305.79M908.1 308.19L912.9 308.19M910.5 305.79L910.5 310.59M919.98 305.79L924.77 310.59M919.98 310.59L924.77 305.79M919.98 308.19L924.77 308.19M922.38 305.79L922.38 310.59M931.85 305.79L936.65 310.59M931.85 310.59L936.65 305.79M931.85 308.19L936.65 308.19M934.25 305.79L934.25 310.59M943.73 301.08L948.52 305.88M943.73 305.88L948.52 301.08M943.73 303.48L948.52 303.48M946.12 301.08L946.12 305.88M955.6 301.08L960.4 305.88M955.6 305.88L960.4 301.08M955.6 303.48L960.4 303.48M958 301.08L958 305.88" stroke="#00ff00" stroke-width="1.1"/>
<path d="M673 303.48 L684.88 303.48 L696.75 308.19 L708.62 303.48 L720.5 313.43 L732.38 313.43 L744.25 317.62 L756.12 317.62 L768 308.19 L779.88 299.29 L791.75 303.48 L803.62 313.43 L815.5 308.19 L827.38 294.57 L839.25 303.48 L851.12 299.29 L863 303.48 L874.88 294.57 L886.75 299.29 L898.62 299.29 L910.5 308.19 L922.38 317.62 L934.25 312.91 L946.12 308.19 L958 308.19" stroke="#0000ff" stroke-width="1.25"/>
<path d="M670.6 301.08L675.4 305.88M670.6 305.88L675.4 301.08M670.6 303.48L675.4 303.48M673 301.08L673 305.88M682.48 301.08L687.27 305.88M682.48 305.88L687.27 301.08M682.48 303.48L687.27 303.48M684.88 301.08L684.88 305.88M694.35 305.79L699.15 310.59M694.35 310.59L699.15 305.79M694.35 308.19L699.15 308.19M696.75 305.79L696.75 310.59M706.23 301.08L711.02 305.88M706.23 305.88L711.02 301.08M706.23 303.48L711.02 303.48M708.62 301.08L708.62 305.88M718.1 311.03L722.9 315.83M718.1 315.83L722.9 311.03M718.1 313.43L722.9 313.43M720.5 311.03L720.5 315.83M729.98 311.03L734.77 315.83M729.98 315.83L734.77 311.03M729.98 313.43L734.77 313.43M732.38 311.03L732.38 315.83M741.85 315.22L746.65 320.02M741.85 320.02L746.65 315.22M741.85 317.62L746.65 317.62M744.25 315.22L744.25 320.02M753.73 315.22L758.52 320.02M753.73 320.02L758.52 315.22M753.73 317.62L758.52 317.62M756.12 315.22L756.12 320.02M765.6 305.79L770.4 310.59M765.6 310.59L770.4 305.79M765.6 308.19L770.4 308.19M768 305.79L768 310.59M777.48 296.89L782.27 301.69M777.48 301.69L782.27 296.89M777.48 299.29L782.27 299.29M779.88 296.89L779.88 301.69M789.35 301.08L794.15 305.88M789.35 305.88L794.15 301.08M789.35 303.48L794.15 303.48M791.75 301.08L791.75 305.88M801.23 311.03L806.02 315.83M801.23 315.83L806.02 311.03M801.23 313.43L806.02 313.43M803.62 311.03L803.62 315.83M813.1 305.79L817.9 310.59M813.1 310.59L817.9 305.79M813.1 308.19L817.9 308.19M815.5 305.79L815.5 310.59M824.98 292.18L829.77 296.97M824.98 296.97L829.77 292.18M824.98 294.57L829.77 294.57M827.38 292.18L827.38 296.97M836.85 301.08L841.65 305.88M836.85 305.88L841.65 301.08M836.85 303.48L841.65 303.48M839.25 301.08L839.25 305.88M848.73 296.89L853.52 301.69M848.73 301.69L853.52 296.89M848.73 299.29L853.52 299.29M851.12 296.89L851.12 301.69M860.6 301.08L865.4 305.88M860.6 305.88L865.4 301.08M860.6 303.48L865.4 303.48M863 301.08L863 305.88M872.48 292.18L877.27 296.97M872.48 296.97L877.27 292.18M872.48 294.57L877.27 294.57M874.88 292.18L874.88 296.97M884.35 296.89L889.15 301.69M884.35 301.69L889.15 296.89M884.35 299.29L889.15 299.29M886.75 296.89L886.75 301.69M896.23 296.89L901.02 301.69M896.23 301.69L901.02 296.89M896.23 299.29L901.02 299.29M898.62 296.89L898.62 301.69M908.1 305.79L912.9 310.59M908.1 310.59L912.9 305.79M908.1 308.19L912.9 308.19M910.5 305.79L910.5 310.59M919.98 315.22L924.77 320.02M919.98 320.02L924.77 315.22M919.98 317.62L924.77 317.62M922.38 315.22L922.38 320.02M931.85 310.51L936.65 315.31M931.85 315.31L936.65 310.51M931.85 312.91L936.65 312.91M934.25 310.51L934.25 315.31M943.73 305.79L948.52 310.59M943.73 310.59L948.52 305.79M943.73 308.19L948.52 308.19M946.12 305.79L946.12 310.59M955.6 305.79L960.4 310.59M955.6 310.59L960.4 305.79M955.6 308.19L960.4 308.19M958 305.79L958 310.59" stroke="#0000ff" stroke-width="1.1"/>
<path d="M673 308.19 L696.75 308.19 L708.62 303.48 L720.5 303.48 L732.38 299.29 L744.25 299.29 L756.12 294.57 L768 285.67 L779.88 289.86 L791.75 299.29 L803.62 299.29 L815.5 299.29 L827.38 308.19 L839.25 317.62 L851.12 308.19 L863 321.81 L874.88 321.81 L886.75 308.19 L898.62 303.48 L910.5 312.91 L922.38 312.91 L934.25 308.19 L946.12 303.48 L958 303.48" stroke="#ff0000" stroke-width="1.25"/>
<path d="M670.6 305.79L675.4 310.59M670.6 310.59L675.4 305.79M670.6 308.19L675.4 308.19M673 305.79L673 310.59M694.35 305.79L699.15 310.59M694.35 310.59L699.15 305.79M694.35 308.19L699.15 308.19M696.75 305.79L696.75 310.59M706.23 301.08L711.02 305.88M706.23 305.88L711.02 301.08M706.23 303.48L711.02 303.48M708.62 301.08L708.62 305.88M718.1 301.08L722.9 305.88M718.1 305.88L722.9 301.08M718.1 303.48L722.9 303.48M720.5 301.08L720.5 305.88M729.98 296.89L734.77 301.69M729.98 301.69L734.77 296.89M729.98 299.29L734.77 299.29M732.38 296.89L732.38 301.69M741.85 296.89L746.65 301.69M741.85 301.69L746.65 296.89M741.85 299.29L746.65 299.29M744.25 296.89L744.25 301.69M753.73 292.18L758.52 296.97M753.73 296.97L758.52 292.18M753.73 294.57L758.52 294.57M756.12 292.18L756.12 296.97M765.6 283.27L770.4 288.07M765.6 288.07L770.4 283.27M765.6 285.67L770.4 285.67M768 283.27L768 288.07M777.48 287.46L782.27 292.26M777.48 292.26L782.27 287.46M777.48 289.86L782.27 289.86M779.88 287.46L779.88 292.26M789.35 296.89L794.15 301.69M789.35 301.69L794.15 296.89M789.35 299.29L794.15 299.29M791.75 296.89L791.75 301.69M801.23 296.89L806.02 301.69M801.23 301.69L806.02 296.89M801.23 299.29L806.02 299.29M803.62 296.89L803.62 301.69M813.1 296.89L817.9 301.69M813.1 301.69L817.9 296.89M813.1 299.29L817.9 299.29M815.5 296.89L815.5 301.69M824.98 305.79L829.77 310.59M824.98 310.59L829.77 305.79M824.98 308.19L829.77 308.19M827.38 305.79L827.38 310.59M836.85 315.22L841.65 320.02M836.85 320.02L841.65 315.22M836.85 317.62L841.65 317.62M839.25 315.22L839.25 320.02M848.73 305.79L853.52 310.59M848.73 310.59L853.52 305.79M848.73 308.19L853.52 308.19M851.12 305.79L851.12 310.59M860.6 319.41L865.4 324.21M860.6 324.21L865.4 319.41M860.6 321.81L865.4 321.81M863 319.41L863 324.21M872.48 319.41L877.27 324.21M872.48 324.21L877.27 319.41M872.48 321.81L877.27 321.81M874.88 319.41L874.88 324.21M884.35 305.79L889.15 310.59M884.35 310.59L889.15 305.79M884.35 308.19L889.15 308.19M886.75 305.79L886.75 310.59M896.23 301.08L901.02 305.88M896.23 305.88L901.02 301.08M896.23 303.48L901.02 303.48M898.62 301.08L898.62 305.88M908.1 310.51L912.9 315.31M908.1 315.31L912.9 310.51M908.1 312.91L912.9 312.91M910.5 310.51L910.5 315.31M919.98 310.51L924.77 315.31M919.98 315.31L924.77 310.51M919.98 312.91L924.77 312.91M922.38 310.51L922.38 315.31M931.85 305.79L936.65 310.59M931.85 310.59L936.65 305.79M931.85 308.19L936.65 308.19M934.25 305.79L934.25 310.59M943.73 301.08L948.52 305.88M943.73 305.88L948.52 301.08M943.73 303.48L948.52 303.48M946.12 301.08L946.12 305.88M955.6 301.08L960.4 305.88M955.6 305.88L960.4 301.08M955.6 303.48L960.4 303.48M958 301.08L958 305.88" stroke="#ff0000" stroke-width="1.1"/>
</g>
<rect x="673" y="242.2" width="285" height="83.8" fill="none" stroke="#000" stroke-width="2.0"/>
<path d="M720.5 243.2V325M768.5 243.2V325M815.5 243.2V325M863.5 243.2V325M910.5 243.2V325M674 315.52H957M674 305.05H957M674 294.57H957M674 284.1H957M674 273.62H957M674 263.15H957M674 252.67H957" stroke="#000" stroke-width="1.2" stroke-dasharray="1.2 1.8" fill="none"/>
<path d="M673.5 326v-6M673.5 242.2v6M696.5 326v-4M696.5 242.2v4M720.5 326v-6M720.5 242.2v6M744.5 326v-4M744.5 242.2v4M768.5 326v-6M768.5 242.2v6M791.5 326v-4M791.5 242.2v4M815.5 326v-6M815.5 242.2v6M839.5 326v-4M839.5 242.2v4M863.5 326v-6M863.5 242.2v6M886.5 326v-4M886.5 242.2v4M910.5 326v-6M910.5 242.2v6M934.5 326v-4M934.5 242.2v4M958.5 326v-6M958.5 242.2v6M673 326h6M958 326h-6M673 320.76h4M958 320.76h-4M673 315.52h6M958 315.52h-6M673 310.29h4M958 310.29h-4M673 305.05h6M958 305.05h-6M673 299.81h4M958 299.81h-4M673 294.57h6M958 294.57h-6M673 289.34h4M958 289.34h-4M673 284.1h6M958 284.1h-6M673 278.86h4M958 278.86h-4M673 273.62h6M958 273.62h-6M673 268.39h4M958 268.39h-4M673 263.15h6M958 263.15h-6M673 257.91h4M958 257.91h-4M673 252.67h6M958 252.67h-6M673 247.44h4M958 247.44h-4M673 242.2h6M958 242.2h-6" stroke="#000" stroke-width="1" fill="none"/>
<g font-family="Liberation Sans" font-weight="bold" font-size="9" fill="#000">
<text x="673" y="337.3" text-anchor="middle">0</text>
<text x="720.5" y="337.3" text-anchor="middle">4</text>
<text x="768" y="337.3" text-anchor="middle">8</text>
<text x="815.5" y="337.3" text-anchor="middle">12</text>
<text x="863" y="337.3" text-anchor="middle">16</text>
<text x="910.5" y="337.3" text-anchor="middle">20</text>
<text x="958" y="337.3" text-anchor="middle">24</text>
<text x="668.5" y="329.2" text-anchor="end">0.14</text>
<text x="668.5" y="318.72" text-anchor="end">0.16</text>
<text x="668.5" y="308.25" text-anchor="end">0.18</text>
<text x="668.5" y="297.77" text-anchor="end">0.20</text>
<text x="668.5" y="287.3" text-anchor="end">0.22</text>
<text x="668.5" y="276.82" text-anchor="end">0.24</text>
<text x="668.5" y="266.35" text-anchor="end">0.26</text>
<text x="668.5" y="255.87" text-anchor="end">0.28</text>
<text x="668.5" y="245.4" text-anchor="end">0.30</text>
</g>
<text x="918.6" y="238.8" font-family="Liberation Serif" font-weight="bold" font-size="9.2" textLength="39.7" lengthAdjust="spacingAndGlyphs" fill="#000">CO (ppm)</text>
</svg></body></html>
